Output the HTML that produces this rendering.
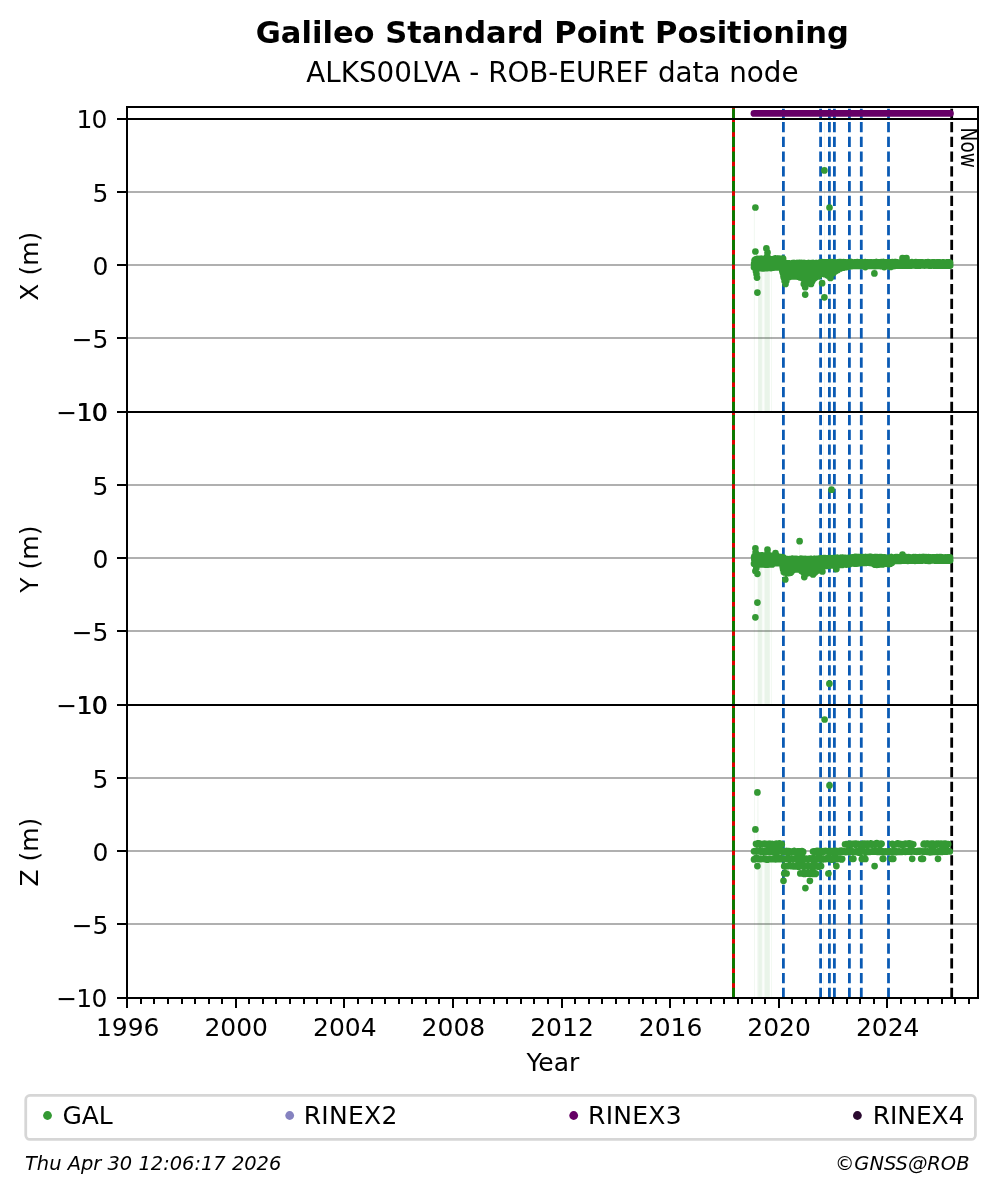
<!DOCTYPE html>
<html lang="en"><head><meta charset="utf-8"><title>Galileo Standard Point Positioning</title>
<style>html,body{margin:0;padding:0;background:#fff;width:997px;height:1194px;overflow:hidden}svg{display:block}</style></head>
<body>
<svg width="997" height="1194" viewBox="0 0 997 1194" font-family="'DejaVu Sans','Liberation Sans',sans-serif" fill="#000">
<rect width="997" height="1194" fill="#fff"/>
<defs>
<clipPath id="c0"><rect x="127.0" y="107.0" width="851.0" height="12.0"/></clipPath>
<clipPath id="c1"><rect x="127.0" y="119.0" width="851.0" height="293.0"/></clipPath>
<clipPath id="c2"><rect x="127.0" y="412.0" width="851.0" height="293.0"/></clipPath>
<clipPath id="c3"><rect x="127.0" y="705.0" width="851.0" height="293.0"/></clipPath>
</defs>
<g clip-path="url(#c0)">
<path d="M733.5 119.0V107.0" stroke="#e00000" stroke-width="3" fill="none"/><path d="M733.5 119.0V107.0" stroke="#008000" stroke-width="2.78" stroke-dasharray="10.28 4.44" fill="none"/><path d="M783.4 119.0V107.0M820.6 119.0V107.0M829.4 119.0V107.0M834.4 119.0V107.0M849.4 119.0V107.0M861.3 119.0V107.0M888.5 119.0V107.0" stroke="#0a5ab4" stroke-width="2.78" stroke-dasharray="10.28 4.44" fill="none"/><path d="M951.7 119.0V107.0" stroke="#000" stroke-width="2.78" stroke-dasharray="10.28 4.44" fill="none"/>
<path d="M754 113.4H950.4" stroke="#660066" stroke-width="6.9" stroke-linecap="round" fill="none"/>
</g>
<g clip-path="url(#c1)">
<path d="M127.0 192H978.0M127.0 265H978.0M127.0 338H978.0" stroke="#b0b0b0" stroke-width="2.0" fill="none"/>
<path d="M733.5 412.0V119.0" stroke="#e00000" stroke-width="3" fill="none"/><path d="M733.5 412.0V119.0" stroke="#008000" stroke-width="2.78" stroke-dasharray="10.28 4.44" fill="none"/><path d="M783.4 412.0V119.0M820.6 412.0V119.0M829.4 412.0V119.0M834.4 412.0V119.0M849.4 412.0V119.0M861.3 412.0V119.0M888.5 412.0V119.0" stroke="#0a5ab4" stroke-width="2.78" stroke-dasharray="10.28 4.44" fill="none"/><path d="M951.7 412.0V119.0" stroke="#000" stroke-width="2.78" stroke-dasharray="10.28 4.44" fill="none"/>
<rect x="753.9" y="207" width="0.8" height="205.0" fill="#339933" fill-opacity="0.08"/>
<rect x="758.1" y="268" width="3.8" height="144.0" fill="#339933" fill-opacity="0.11"/>
<rect x="764.4" y="266" width="5.4" height="146.0" fill="#339933" fill-opacity="0.11"/>
<rect x="771.1" y="266" width="0.8" height="146.0" fill="#339933" fill-opacity="0.08"/>
<rect x="762.55" y="266" width="0.7" height="146.0" fill="#339933" fill-opacity="0.08"/>
<rect x="824.0" y="119.0" width="0.8" height="293.0" fill="#339933" fill-opacity="0.08"/>
<rect x="829.1" y="119.0" width="0.8" height="293.0" fill="#339933" fill-opacity="0.08"/>
<path d="M754.0 267.2h0M754.1 263.5h0M754.3 264.3h0M754.4 267.6h0M754.5 260.7h0M754.7 260.9h0M754.8 260.2h0M754.9 267.8h0M755.0 264.8h0M755.2 268.1h0M755.3 261.1h0M755.4 259.7h0M755.6 268.7h0M755.7 265.4h0M755.8 265.7h0M756.0 269.4h0M756.1 267.7h0M756.2 262.1h0M756.4 259.2h0M756.5 263.3h0M756.6 263.2h0M756.7 259.0h0M756.9 268.0h0M757.0 268.7h0M757.1 269.0h0M757.3 261.5h0M757.4 262.6h0M757.5 259.0h0M757.7 259.9h0M757.8 266.6h0M757.9 258.9h0M758.1 265.9h0M758.2 265.0h0M758.3 259.0h0M758.5 268.3h0M758.6 262.1h0M758.7 259.3h0M758.8 264.8h0M759.0 268.1h0M759.1 268.2h0M759.2 261.6h0M759.4 260.0h0M759.5 268.1h0M759.6 263.4h0M759.8 263.5h0M759.9 258.9h0M760.0 267.3h0M760.2 261.2h0M760.3 267.8h0M760.4 267.7h0M760.5 264.4h0M760.7 259.3h0M760.8 261.3h0M760.9 261.5h0M761.1 258.9h0M761.2 265.3h0M761.3 261.2h0M761.5 267.9h0M761.6 267.1h0M761.7 259.1h0M761.9 258.9h0M762.0 262.4h0M762.1 260.2h0M762.2 268.0h0M762.4 265.3h0M762.5 260.1h0M762.6 268.1h0M762.8 267.4h0M762.9 264.7h0M763.0 259.3h0M763.2 259.8h0M763.3 265.8h0M763.4 268.1h0M763.6 267.1h0M763.7 265.4h0M763.8 259.2h0M763.9 266.8h0M764.1 264.6h0M764.2 267.7h0M764.3 265.0h0M764.5 267.0h0M764.6 268.0h0M764.7 263.2h0M764.9 260.0h0M765.0 267.9h0M765.1 261.2h0M765.3 263.5h0M765.4 258.9h0M765.5 261.8h0M765.7 260.7h0M765.8 267.9h0M765.9 266.9h0M766.0 264.8h0M766.2 268.1h0M766.3 266.8h0M766.4 264.1h0M766.6 259.3h0M766.7 266.7h0M766.8 267.3h0M767.0 259.0h0M767.1 260.9h0M767.2 264.6h0M767.4 268.1h0M767.5 262.9h0M767.6 259.6h0M767.7 267.9h0M767.9 262.0h0M768.0 259.1h0M768.1 259.3h0M768.3 261.0h0M768.4 259.6h0M768.5 267.9h0M768.7 266.4h0M768.8 264.9h0M768.9 258.9h0M769.1 263.3h0M769.2 260.6h0M769.3 267.9h0M769.4 264.6h0M769.6 262.7h0M769.7 259.3h0M769.8 265.2h0M770.0 263.1h0M770.1 259.1h0M770.2 266.9h0M770.4 267.3h0M770.5 259.2h0M770.6 266.3h0M770.8 265.2h0M770.9 268.1h0M771.0 263.9h0M771.2 262.3h0M771.3 259.5h0M771.4 263.5h0M771.5 266.1h0M771.7 267.6h0M771.8 266.3h0M771.9 263.6h0M772.1 261.5h0M772.2 266.3h0M772.3 266.2h0M772.5 267.5h0M772.6 263.5h0M772.7 263.7h0M772.9 267.7h0M773.0 264.7h0M773.1 263.6h0M773.2 260.8h0M773.4 267.2h0M773.5 264.1h0M773.6 267.4h0M773.8 259.8h0M773.9 263.2h0M774.0 267.2h0M774.2 264.4h0M774.3 263.3h0M774.4 267.1h0M774.6 262.6h0M774.7 262.6h0M774.8 258.7h0M774.9 260.5h0M775.1 266.4h0M775.2 258.6h0M775.3 260.8h0M775.5 261.4h0M775.6 258.9h0M775.7 259.8h0M775.9 260.8h0M776.0 258.7h0M776.1 262.3h0M776.3 260.0h0M776.4 267.2h0M776.5 266.0h0M776.6 265.9h0M776.8 267.4h0M776.9 261.4h0M777.0 266.4h0M777.2 267.0h0M777.3 260.9h0M777.4 260.8h0M777.6 258.9h0M777.7 259.8h0M777.8 264.3h0M778.0 267.4h0M778.1 266.7h0M778.2 263.2h0M778.4 267.0h0M778.5 259.2h0M778.6 259.1h0M778.7 267.0h0M778.9 260.2h0M779.0 266.1h0M779.1 258.6h0M779.3 266.8h0M779.4 265.1h0M779.5 267.2h0M779.7 263.6h0M779.8 264.9h0M779.9 258.9h0M780.1 262.1h0M780.2 260.2h0M780.3 267.4h0M780.4 264.9h0M780.6 264.0h0M780.7 267.4h0M780.8 265.4h0M781.0 266.6h0M781.1 267.2h0M781.2 266.5h0M781.4 264.8h0M781.5 258.9h0M781.6 259.4h0M781.8 263.1h0M781.9 269.1h0M782.0 261.5h0M782.1 266.4h0M782.3 271.0h0M782.4 264.0h0M782.5 267.5h0M782.7 272.5h0M782.8 267.8h0M782.9 262.6h0M783.1 258.7h0M783.2 260.3h0M783.3 274.1h0M783.5 276.2h0M783.6 276.7h0M783.7 273.9h0M783.8 277.6h0M784.0 277.1h0M784.1 269.6h0M784.2 278.2h0M784.4 277.5h0M784.5 271.3h0M784.6 263.4h0M784.8 271.6h0M784.9 273.9h0M785.0 263.1h0M785.2 265.8h0M785.3 269.3h0M785.4 263.5h0M785.6 277.1h0M785.7 276.6h0M785.8 277.9h0M785.9 271.2h0M786.1 273.9h0M786.2 278.0h0M786.3 265.0h0M786.5 269.8h0M786.6 277.7h0M786.7 269.8h0M786.9 269.8h0M787.0 263.4h0M787.1 271.2h0M787.3 277.1h0M787.4 263.5h0M787.5 274.6h0M787.6 268.3h0M787.8 277.6h0M787.9 272.4h0M788.0 265.9h0M788.2 277.6h0M788.3 263.6h0M788.4 267.1h0M788.6 263.3h0M788.7 264.1h0M788.8 272.7h0M789.0 263.3h0M789.1 266.1h0M789.2 273.7h0M789.3 263.5h0M789.5 272.0h0M789.6 266.2h0M789.7 276.8h0M789.9 272.4h0M790.0 267.7h0M790.1 276.7h0M790.3 268.1h0M790.4 274.8h0M790.5 276.6h0M790.7 272.3h0M790.8 273.4h0M790.9 276.3h0M791.1 267.4h0M791.2 272.3h0M791.3 263.4h0M791.4 267.9h0M791.6 272.5h0M791.7 276.4h0M791.8 269.1h0M792.0 267.1h0M792.1 276.3h0M792.2 266.4h0M792.4 267.9h0M792.5 263.1h0M792.6 270.6h0M792.8 270.3h0M792.9 263.4h0M793.0 274.2h0M793.1 263.6h0M793.3 276.1h0M793.4 271.6h0M793.5 264.1h0M793.7 263.1h0M793.8 272.8h0M793.9 264.4h0M794.1 276.1h0M794.2 266.3h0M794.3 273.1h0M794.5 263.2h0M794.6 275.8h0M794.7 269.6h0M794.8 276.3h0M795.0 268.7h0M795.1 272.1h0M795.2 276.4h0M795.4 275.7h0M795.5 270.2h0M795.6 263.3h0M795.8 265.3h0M795.9 276.1h0M796.0 263.3h0M796.2 267.3h0M796.3 264.0h0M796.4 276.5h0M796.5 265.4h0M796.7 269.4h0M796.8 263.1h0M796.9 265.6h0M797.1 266.5h0M797.2 263.1h0M797.3 266.9h0M797.5 273.3h0M797.6 276.6h0M797.7 267.0h0M797.9 275.4h0M798.0 276.6h0M798.1 266.0h0M798.3 276.1h0M798.4 276.7h0M798.5 267.2h0M798.6 272.0h0M798.8 263.2h0M798.9 274.2h0M799.0 271.3h0M799.2 263.2h0M799.3 275.1h0M799.4 272.2h0M799.6 276.7h0M799.7 273.6h0M799.8 274.7h0M800.0 263.2h0M800.1 272.9h0M800.2 269.9h0M800.3 277.4h0M800.5 267.7h0M800.6 269.3h0M800.7 277.2h0M800.9 271.0h0M801.0 265.7h0M801.1 263.1h0M801.3 267.7h0M801.4 273.5h0M801.5 263.2h0M801.7 270.2h0M801.8 275.5h0M801.9 263.4h0M802.0 266.8h0M802.2 269.8h0M802.3 278.0h0M802.4 272.4h0M802.6 269.0h0M802.7 263.2h0M802.8 273.3h0M803.0 266.5h0M803.1 278.6h0M803.2 274.3h0M803.4 275.7h0M803.5 263.4h0M803.6 274.0h0M803.7 269.6h0M803.9 263.2h0M804.0 265.5h0M804.1 269.4h0M804.3 263.3h0M804.4 273.5h0M804.5 276.0h0M804.7 263.1h0M804.8 269.6h0M804.9 278.7h0M805.1 278.7h0M805.2 268.4h0M805.3 273.3h0M805.5 279.1h0M805.6 276.3h0M805.7 265.9h0M805.8 279.0h0M806.0 271.0h0M806.1 274.8h0M806.2 279.3h0M806.4 266.7h0M806.5 273.1h0M806.6 263.3h0M806.8 274.3h0M806.9 278.1h0M807.0 263.5h0M807.2 265.7h0M807.3 272.1h0M807.4 263.5h0M807.5 279.4h0M807.7 272.8h0M807.8 263.5h0M807.9 267.2h0M808.1 276.6h0M808.2 263.1h0M808.3 266.5h0M808.5 278.8h0M808.6 279.8h0M808.7 269.6h0M808.9 276.3h0M809.0 263.1h0M809.1 269.8h0M809.2 266.2h0M809.4 279.9h0M809.5 273.8h0M809.6 274.4h0M809.8 280.1h0M809.9 270.3h0M810.0 275.1h0M810.2 263.5h0M810.3 277.8h0M810.4 270.3h0M810.6 280.5h0M810.7 272.3h0M810.8 278.8h0M811.0 280.8h0M811.1 276.1h0M811.2 276.3h0M811.3 263.1h0M811.5 271.1h0M811.6 270.0h0M811.7 280.8h0M811.9 268.7h0M812.0 267.3h0M812.1 280.9h0M812.3 278.3h0M812.4 277.0h0M812.5 280.6h0M812.7 265.1h0M812.8 265.4h0M812.9 263.2h0M813.0 268.1h0M813.2 264.5h0M813.3 263.2h0M813.4 272.5h0M813.6 264.0h0M813.7 263.5h0M813.8 278.5h0M814.0 266.4h0M814.1 278.4h0M814.2 275.9h0M814.4 270.2h0M814.5 278.0h0M814.6 272.4h0M814.7 275.8h0M814.9 277.5h0M815.0 276.3h0M815.1 273.2h0M815.3 277.4h0M815.4 264.3h0M815.5 267.7h0M815.7 263.2h0M815.8 272.7h0M815.9 268.5h0M816.1 276.9h0M816.2 267.6h0M816.3 272.3h0M816.4 263.5h0M816.6 269.3h0M816.7 270.2h0M816.8 263.2h0M817.0 273.8h0M817.1 267.2h0M817.2 263.3h0M817.4 266.0h0M817.5 276.0h0M817.6 276.3h0M817.8 275.4h0M817.9 265.7h0M818.0 263.4h0M818.2 273.4h0M818.3 269.9h0M818.4 276.3h0M818.5 265.6h0M818.7 265.4h0M818.8 263.4h0M818.9 273.3h0M819.1 266.2h0M819.2 275.4h0M819.3 263.6h0M819.5 271.5h0M819.6 262.8h0M819.7 263.1h0M819.9 267.7h0M820.0 273.6h0M820.1 272.6h0M820.2 268.5h0M820.4 262.4h0M820.5 262.7h0M820.6 268.7h0M820.8 272.1h0M820.9 270.1h0M821.0 264.6h0M821.2 272.1h0M821.3 262.9h0M821.4 265.8h0M821.6 262.4h0M821.7 270.2h0M821.8 263.8h0M821.9 262.3h0M822.1 271.3h0M822.2 266.3h0M822.3 262.2h0M822.5 273.0h0M822.6 270.0h0M822.7 272.9h0M822.9 267.6h0M823.0 266.3h0M823.1 273.1h0M823.3 266.9h0M823.4 263.0h0M823.5 273.7h0M823.6 272.4h0M823.8 267.1h0M823.9 273.8h0M824.0 266.3h0M824.2 268.6h0M824.3 262.4h0M824.4 266.0h0M824.6 274.2h0M824.7 262.3h0M824.8 263.4h0M825.0 266.6h0M825.1 262.3h0M825.2 267.4h0M825.4 271.0h0M825.5 262.6h0M825.6 266.9h0M825.7 271.5h0M825.9 262.3h0M826.0 263.6h0M826.1 266.6h0M826.3 262.3h0M826.4 265.2h0M826.5 264.4h0M826.7 262.4h0M826.8 269.1h0M826.9 271.3h0M827.1 275.0h0M827.2 264.9h0M827.3 271.6h0M827.4 275.2h0M827.6 266.1h0M827.7 265.0h0M827.8 275.6h0M828.0 273.3h0M828.1 266.4h0M828.2 262.5h0M828.4 271.5h0M828.5 273.9h0M828.6 262.4h0M828.8 267.5h0M828.9 267.5h0M829.0 262.2h0M829.1 267.8h0M829.3 264.7h0M829.4 262.3h0M829.5 267.8h0M829.7 270.2h0M829.8 275.2h0M829.9 267.4h0M830.1 263.2h0M830.2 262.4h0M830.3 268.3h0M830.5 265.4h0M830.6 275.0h0M830.7 265.7h0M830.9 264.7h0M831.0 274.6h0M831.1 269.6h0M831.2 271.8h0M831.4 262.4h0M831.5 265.9h0M831.6 272.8h0M831.8 262.2h0M831.9 268.2h0M832.0 266.8h0M832.2 262.3h0M832.3 270.0h0M832.4 262.4h0M832.6 262.4h0M832.7 269.6h0M832.8 269.2h0M832.9 273.1h0M833.1 266.3h0M833.2 265.8h0M833.3 273.1h0M833.5 270.8h0M833.6 268.8h0M833.7 262.3h0M833.9 269.9h0M834.0 264.6h0M834.1 262.4h0M834.3 263.4h0M834.4 262.9h0M834.5 262.4h0M834.6 269.6h0M834.8 264.1h0M834.9 262.3h0M835.0 267.2h0M835.2 266.0h0M835.3 271.2h0M835.4 265.5h0M835.6 269.9h0M835.7 262.5h0M835.8 267.9h0M836.0 269.0h0M836.1 270.7h0M836.2 263.7h0M836.3 267.5h0M836.5 262.5h0M836.6 265.9h0M836.7 265.8h0M836.9 262.5h0M837.0 263.1h0M837.1 264.8h0M837.3 262.3h0M837.4 262.6h0M837.5 266.0h0M837.7 270.1h0M837.8 264.5h0M837.9 267.1h0M838.1 262.5h0M838.2 266.5h0M838.3 263.3h0M838.4 269.3h0M838.6 265.6h0M838.7 264.4h0M838.8 262.5h0M839.0 264.1h0M839.1 265.5h0M839.2 262.2h0M839.4 268.1h0M839.5 262.7h0M839.6 268.6h0M839.8 267.8h0M839.9 265.1h0M840.0 262.4h0M840.1 266.4h0M840.3 264.3h0M840.4 268.4h0M840.5 267.5h0M840.7 263.2h0M840.8 262.2h0M840.9 264.6h0M841.1 264.2h0M841.2 262.6h0M841.3 262.5h0M841.5 267.2h0M841.6 262.6h0M841.7 267.2h0M841.8 267.8h0M842.0 262.5h0M842.1 264.0h0M842.2 262.6h0M842.4 262.3h0M842.5 266.2h0M842.6 264.5h0M842.8 262.6h0M842.9 263.9h0M843.0 264.3h0M843.2 267.7h0M843.3 265.8h0M843.4 262.8h0M843.5 262.2h0M843.7 265.0h0M843.8 264.1h0M843.9 262.6h0M844.1 264.2h0M844.2 263.2h0M844.3 267.3h0M844.5 264.5h0M844.6 263.2h0M844.7 267.2h0M844.9 263.2h0M845.0 267.0h0M845.1 262.5h0M845.3 263.5h0M845.4 266.8h0M845.5 267.2h0M845.6 263.1h0M845.8 265.6h0M845.9 262.3h0M846.0 263.5h0M846.2 265.0h0M846.3 266.9h0M846.4 265.1h0M846.6 266.4h0M846.7 266.9h0M846.8 263.9h0M847.0 266.6h0M847.1 262.6h0M847.2 264.4h0M847.3 266.0h0M847.5 266.7h0M847.6 264.8h0M847.7 262.9h0M847.9 262.6h0M848.0 264.3h0M848.1 265.7h0M848.3 266.2h0M848.4 264.7h0M848.5 264.2h0M848.7 266.4h0M848.8 264.7h0M848.9 265.3h0M849.0 262.2h0M849.2 263.9h0M849.3 265.3h0M849.4 262.6h0M849.6 264.8h0M849.7 262.9h0M849.8 266.1h0M850.0 264.8h0M850.1 264.7h0M850.2 262.3h0M850.4 264.5h0M850.5 264.6h0M850.6 262.5h0M850.8 263.8h0M850.9 263.0h0M851.0 262.2h0M851.1 266.0h0M851.3 264.9h0M851.4 262.2h0M851.5 264.6h0M851.7 265.2h0M851.8 266.1h0M851.9 263.7h0M852.1 263.3h0M852.2 265.8h0M852.3 265.5h0M852.5 264.2h0M852.6 266.0h0M852.7 263.8h0M852.8 263.8h0M853.0 265.8h0M853.1 264.9h0M853.2 263.2h0M853.4 265.8h0M853.5 263.8h0M853.6 265.4h0M853.8 265.7h0M853.9 265.3h0M854.0 263.6h0M854.2 265.8h0M854.3 265.8h0M854.4 262.6h0M854.5 262.4h0M854.7 263.6h0M854.8 264.8h0M854.9 265.8h0M855.1 265.4h0M855.2 265.1h0M855.3 262.4h0M855.5 264.6h0M855.6 265.7h0M855.7 262.4h0M855.9 264.8h0M856.0 263.1h0M856.1 265.8h0M856.2 265.4h0M856.4 264.9h0M856.5 262.6h0M856.6 265.9h0M856.8 262.4h0M856.9 265.7h0M857.0 265.1h0M857.2 264.0h0M857.3 262.2h0M857.4 264.1h0M857.6 265.0h0M857.7 262.3h0M857.8 264.0h0M858.0 264.2h0M858.1 265.7h0M858.2 265.8h0M858.3 263.9h0M858.5 265.9h0M858.6 262.3h0M858.7 265.4h0M858.9 262.4h0M859.0 262.3h0M859.1 263.7h0M859.3 265.7h0M859.4 263.7h0M859.5 263.1h0M859.7 262.4h0M859.8 264.9h0M859.9 265.7h0M860.0 265.8h0M860.2 263.6h0M860.3 263.2h0M860.4 262.3h0M860.6 263.9h0M860.7 262.8h0M860.8 265.9h0M861.0 263.7h0M861.1 262.7h0M861.2 262.3h0M861.4 265.0h0M861.5 262.4h0M861.6 262.5h0M861.7 265.7h0M861.9 264.4h0M862.0 265.9h0M862.1 263.5h0M862.3 264.3h0M862.4 262.3h0M862.5 263.5h0M862.7 264.1h0M862.8 262.5h0M862.9 263.0h0M863.1 265.2h0M863.2 266.0h0M863.3 264.4h0M863.4 264.8h0M863.6 266.1h0M863.7 264.4h0M863.8 265.8h0M864.0 262.5h0M864.1 264.0h0M864.2 266.1h0M864.4 265.9h0M864.5 265.0h0M864.6 263.9h0M864.8 262.5h0M864.9 262.5h0M865.0 265.4h0M865.2 262.2h0M865.3 263.7h0M865.4 264.6h0M865.5 262.4h0M865.7 265.2h0M865.8 265.4h0M865.9 262.4h0M866.1 265.0h0M866.2 264.2h0M866.3 265.7h0M866.5 264.8h0M866.6 264.3h0M866.7 262.3h0M866.9 264.5h0M867.0 263.8h0M867.1 262.5h0M867.2 264.3h0M867.4 263.7h0M867.5 262.5h0M867.6 264.3h0M867.8 262.8h0M867.9 265.9h0M868.0 264.6h0M868.2 266.0h0M868.3 262.3h0M868.4 264.8h0M868.6 263.7h0M868.7 265.9h0M868.8 264.3h0M868.9 263.2h0M869.1 265.7h0M869.2 265.0h0M869.3 263.1h0M869.5 262.6h0M869.6 264.6h0M869.7 265.7h0M869.9 266.0h0M870.0 263.6h0M870.1 264.8h0M870.3 262.4h0M870.4 263.2h0M870.5 263.1h0M870.7 262.3h0M870.8 263.4h0M870.9 265.3h0M871.0 266.0h0M871.2 264.4h0M871.3 264.4h0M871.4 265.8h0M871.6 262.8h0M871.7 263.8h0M871.8 262.4h0M872.0 265.2h0M872.1 264.2h0M872.2 262.6h0M872.4 263.0h0M872.5 264.5h0M872.6 262.5h0M872.7 263.1h0M872.9 263.7h0M873.0 265.7h0M873.1 262.6h0M873.3 265.9h0M873.4 265.9h0M873.5 262.7h0M873.7 263.1h0M873.8 262.3h0M873.9 264.8h0M874.1 263.9h0M874.2 266.1h0M874.3 264.2h0M874.4 263.4h0M874.6 266.1h0M874.7 265.9h0M874.8 265.6h0M875.0 262.5h0M875.1 264.9h0M875.2 264.8h0M875.4 266.1h0M875.5 262.3h0M875.6 265.7h0M875.8 262.6h0M875.9 264.8h0M876.0 264.6h0M876.1 262.2h0M876.3 265.4h0M876.4 265.3h0M876.5 262.2h0M876.7 265.0h0M876.8 264.5h0M876.9 265.9h0M877.1 263.4h0M877.2 262.9h0M877.3 262.6h0M877.5 263.5h0M877.6 264.6h0M877.7 262.6h0M877.9 262.9h0M878.0 263.4h0M878.1 266.0h0M878.2 264.1h0M878.4 265.0h0M878.5 262.7h0M878.6 263.6h0M878.8 265.8h0M878.9 262.6h0M879.0 265.1h0M879.2 265.1h0M879.3 266.0h0M879.4 264.2h0M879.6 262.5h0M879.7 262.6h0M879.8 262.8h0M879.9 265.7h0M880.1 262.6h0M880.2 263.0h0M880.3 265.6h0M880.5 266.1h0M880.6 265.2h0M880.7 263.9h0M880.9 262.6h0M881.0 262.5h0M881.1 263.4h0M881.3 262.2h0M881.4 264.3h0M881.5 264.5h0M881.6 265.7h0M881.8 263.0h0M881.9 263.6h0M882.0 265.7h0M882.2 263.6h0M882.3 263.6h0M882.4 262.5h0M882.6 265.3h0M882.7 263.3h0M882.8 262.6h0M883.0 263.6h0M883.1 262.8h0M883.2 262.2h0M883.3 263.3h0M883.5 264.2h0M883.6 262.2h0M883.7 263.3h0M883.9 263.4h0M884.0 262.5h0M884.1 263.5h0M884.3 265.5h0M884.4 265.9h0M884.5 263.8h0M884.7 263.5h0M884.8 265.7h0M884.9 264.4h0M885.1 263.3h0M885.2 262.5h0M885.3 263.2h0M885.4 263.2h0M885.6 262.5h0M885.7 264.4h0M885.8 264.2h0M886.0 262.3h0M886.1 264.5h0M886.2 263.8h0M886.4 262.5h0M886.5 265.7h0M886.6 263.8h0M886.8 262.6h0M886.9 265.1h0M887.0 265.6h0M887.1 266.1h0M887.3 264.1h0M887.4 263.6h0M887.5 262.3h0M887.7 263.3h0M887.8 265.5h0M887.9 266.0h0M888.1 265.1h0M888.2 265.1h0M888.3 262.3h0M888.5 265.4h0M888.6 264.1h0M888.7 266.1h0M888.8 265.7h0M889.0 262.7h0M889.1 266.1h0M889.2 263.4h0M889.4 265.0h0M889.5 265.7h0M889.6 264.7h0M889.8 265.6h0M889.9 265.9h0M890.0 265.8h0M890.2 264.1h0M890.3 262.3h0M890.4 265.1h0M890.6 264.8h0M890.7 265.8h0M890.8 263.2h0M890.9 264.8h0M891.1 262.7h0M891.2 265.5h0M891.3 265.8h0M891.5 265.8h0M891.6 263.4h0M891.7 263.9h0M891.9 265.9h0M892.0 264.9h0M892.1 263.2h0M892.3 262.2h0M892.4 262.6h0M892.5 264.5h0M892.6 262.4h0M892.8 263.2h0M892.9 265.6h0M893.0 266.0h0M893.2 264.4h0M893.3 265.9h0M893.4 266.1h0M893.6 264.1h0M893.7 264.8h0M893.8 265.7h0M894.0 265.0h0M894.1 263.6h0M894.2 265.7h0M894.3 263.7h0M894.5 264.2h0M894.6 262.2h0M894.7 263.4h0M894.9 263.7h0M895.0 265.8h0M895.1 263.8h0M895.3 264.7h0M895.4 265.4h0M895.5 262.6h0M895.7 262.3h0M895.8 262.2h0M895.9 265.5h0M896.0 264.0h0M896.2 265.3h0M896.3 263.2h0M896.4 265.1h0M896.6 262.6h0M896.7 263.4h0M896.8 264.6h0M897.0 262.4h0M897.1 263.5h0M897.2 263.6h0M897.4 262.4h0M897.5 265.1h0M897.6 263.8h0M897.8 265.5h0M897.9 264.6h0M898.0 263.5h0M898.1 265.6h0M898.3 263.9h0M898.4 263.3h0M898.5 265.4h0M898.7 264.4h0M898.8 263.9h0M898.9 265.4h0M899.1 263.9h0M899.2 263.3h0M899.3 265.7h0M899.5 264.9h0M899.6 264.4h0M899.7 265.5h0M899.8 263.3h0M900.0 264.2h0M900.1 262.6h0M900.2 263.6h0M900.4 265.2h0M900.5 265.5h0M900.6 263.0h0M900.8 265.3h0M900.9 265.5h0M901.0 262.9h0M901.2 263.9h0M901.3 265.7h0M901.4 263.7h0M901.5 262.6h0M901.7 265.7h0M901.8 263.5h0M901.9 263.6h0M902.1 262.5h0M902.2 262.8h0M902.3 265.3h0M902.5 262.3h0M902.6 262.9h0M902.7 264.6h0M902.9 265.3h0M903.0 265.1h0M903.1 263.2h0M903.2 262.6h0M903.4 263.1h0M903.5 263.4h0M903.6 265.6h0M903.8 265.3h0M903.9 263.2h0M904.0 265.4h0M904.2 263.8h0M904.3 265.2h0M904.4 262.4h0M904.6 264.5h0M904.7 265.3h0M904.8 262.3h0M905.0 264.4h0M905.1 264.4h0M905.2 265.5h0M905.3 262.5h0M905.5 263.8h0M905.6 265.3h0M905.7 262.5h0M905.9 264.4h0M906.0 265.6h0M906.1 263.4h0M906.3 263.4h0M906.4 262.3h0M906.5 263.2h0M906.7 262.4h0M906.8 262.3h0M906.9 265.0h0M907.0 263.9h0M907.2 265.6h0M907.3 264.6h0M907.4 263.9h0M907.6 265.5h0M907.7 264.1h0M907.8 265.1h0M908.0 262.4h0M908.1 262.7h0M908.2 264.2h0M908.4 265.7h0M908.5 264.6h0M908.6 264.7h0M908.7 265.7h0M908.9 265.7h0M909.0 264.8h0M909.1 265.5h0M909.3 263.9h0M909.4 265.1h0M909.5 262.7h0M909.7 262.3h0M909.8 263.7h0M909.9 265.7h0M910.1 263.9h0M910.2 264.3h0M910.3 262.7h0M910.5 264.4h0M910.6 263.8h0M910.7 265.6h0M910.8 262.4h0M911.0 264.3h0M911.1 265.4h0M911.2 265.4h0M911.4 262.8h0M911.5 265.6h0M911.6 264.5h0M911.8 262.7h0M911.9 262.2h0M912.0 262.9h0M912.2 265.3h0M912.3 265.3h0M912.4 264.4h0M912.5 265.1h0M912.7 262.6h0M912.8 263.3h0M912.9 263.0h0M913.1 262.4h0M913.2 265.3h0M913.3 262.5h0M913.5 262.6h0M913.6 264.8h0M913.7 264.6h0M913.9 265.5h0M914.0 262.6h0M914.1 263.6h0M914.2 262.7h0M914.4 263.5h0M914.5 263.0h0M914.6 262.5h0M914.8 264.1h0M914.9 264.0h0M915.0 265.3h0M915.2 264.9h0M915.3 263.0h0M915.4 265.6h0M915.6 264.9h0M915.7 262.8h0M915.8 262.2h0M915.9 262.7h0M916.1 263.4h0M916.2 265.6h0M916.3 265.0h0M916.5 262.7h0M916.6 262.3h0M916.7 264.2h0M916.9 263.0h0M917.0 262.5h0M917.1 264.0h0M917.3 263.7h0M917.4 262.4h0M917.5 262.7h0M917.7 264.2h0M917.8 265.3h0M917.9 263.7h0M918.0 263.7h0M918.2 262.4h0M918.3 263.5h0M918.4 264.9h0M918.6 262.4h0M918.7 265.2h0M918.8 263.0h0M919.0 265.4h0M919.1 264.5h0M919.2 265.2h0M919.4 265.7h0M919.5 264.7h0M919.6 262.9h0M919.7 262.6h0M919.9 262.7h0M920.0 263.2h0M920.1 262.4h0M920.3 265.3h0M920.4 263.2h0M920.5 262.6h0M920.7 263.1h0M920.8 263.2h0M920.9 262.4h0M921.1 263.5h0M921.2 264.2h0M921.3 262.5h0M921.4 264.8h0M921.6 265.3h0M921.7 262.4h0M921.8 264.7h0M922.0 264.4h0M922.1 265.4h0M922.2 264.2h0M922.4 262.5h0M922.5 265.5h0M922.6 264.7h0M922.8 262.4h0M922.9 262.6h0M923.0 264.6h0M923.1 265.0h0M923.3 265.3h0M923.4 262.9h0M923.5 262.7h0M923.7 262.5h0M923.8 264.9h0M923.9 262.9h0M924.1 265.5h0M924.2 264.4h0M924.3 264.8h0M924.5 265.6h0M924.6 263.6h0M924.7 263.8h0M924.9 265.5h0M925.0 262.5h0M925.1 264.4h0M925.2 265.4h0M925.4 263.9h0M925.5 264.9h0M925.6 262.4h0M925.8 263.9h0M925.9 265.3h0M926.0 262.6h0M926.2 262.8h0M926.3 263.8h0M926.4 262.4h0M926.6 263.8h0M926.7 262.9h0M926.8 262.3h0M926.9 263.1h0M927.1 264.5h0M927.2 262.4h0M927.3 264.1h0M927.5 265.2h0M927.6 265.3h0M927.7 262.7h0M927.9 264.1h0M928.0 262.2h0M928.1 264.3h0M928.3 263.6h0M928.4 265.3h0M928.5 265.5h0M928.6 264.3h0M928.8 265.6h0M928.9 262.6h0M929.0 262.9h0M929.2 265.4h0M929.3 264.1h0M929.4 263.1h0M929.6 262.4h0M929.7 264.7h0M929.8 263.7h0M930.0 262.6h0M930.1 264.1h0M930.2 263.5h0M930.4 265.6h0M930.5 263.0h0M930.6 264.3h0M930.7 265.7h0M930.9 265.4h0M931.0 264.4h0M931.1 262.6h0M931.3 263.5h0M931.4 265.2h0M931.5 265.4h0M931.7 264.3h0M931.8 263.2h0M931.9 265.4h0M932.1 263.4h0M932.2 263.0h0M932.3 262.4h0M932.4 264.6h0M932.6 265.1h0M932.7 262.4h0M932.8 263.7h0M933.0 264.4h0M933.1 265.4h0M933.2 262.9h0M933.4 262.9h0M933.5 262.5h0M933.6 264.2h0M933.8 262.5h0M933.9 265.4h0M934.0 265.5h0M934.1 264.0h0M934.3 262.5h0M934.4 262.6h0M934.5 263.6h0M934.7 265.7h0M934.8 265.5h0M934.9 264.4h0M935.1 265.3h0M935.2 264.0h0M935.3 264.1h0M935.5 265.6h0M935.6 264.8h0M935.7 262.7h0M935.8 265.4h0M936.0 263.8h0M936.1 264.1h0M936.2 262.7h0M936.4 264.7h0M936.5 263.9h0M936.6 262.4h0M936.8 264.8h0M936.9 264.5h0M937.0 262.5h0M937.2 263.3h0M937.3 262.6h0M937.4 265.5h0M937.6 262.7h0M937.7 264.9h0M937.8 265.7h0M937.9 263.2h0M938.1 265.2h0M938.2 262.3h0M938.3 263.4h0M938.5 265.2h0M938.6 262.4h0M938.7 264.6h0M938.9 264.8h0M939.0 262.4h0M939.1 264.0h0M939.3 264.5h0M939.4 262.3h0M939.5 263.6h0M939.6 262.4h0M939.8 265.7h0M939.9 262.5h0M940.0 263.5h0M940.2 265.7h0M940.3 263.5h0M940.4 262.6h0M940.6 262.6h0M940.7 264.7h0M940.8 263.0h0M941.0 265.4h0M941.1 263.8h0M941.2 264.1h0M941.3 265.7h0M941.5 264.5h0M941.6 265.1h0M941.7 262.6h0M941.9 262.8h0M942.0 264.0h0M942.1 262.7h0M942.3 265.1h0M942.4 262.5h0M942.5 262.7h0M942.7 264.4h0M942.8 262.6h0M942.9 262.4h0M943.0 262.5h0M943.2 263.8h0M943.3 265.4h0M943.4 262.6h0M943.6 263.5h0M943.7 262.3h0M943.8 263.3h0M944.0 262.6h0M944.1 262.7h0M944.2 263.5h0M944.4 263.8h0M944.5 265.5h0M944.6 263.9h0M944.8 264.8h0M944.9 265.7h0M945.0 264.8h0M945.1 263.9h0M945.3 265.7h0M945.4 264.8h0M945.5 264.8h0M945.7 265.3h0M945.8 263.9h0M945.9 265.2h0M946.1 262.6h0M946.2 264.1h0M946.3 263.6h0M946.5 262.6h0M946.6 265.3h0M946.7 263.1h0M946.8 265.3h0M947.0 265.3h0M947.1 262.6h0M947.2 262.7h0M947.4 265.1h0M947.5 263.7h0M947.6 262.4h0M947.8 263.7h0M947.9 263.9h0M948.0 265.7h0M948.2 264.9h0M948.3 263.2h0M948.4 265.4h0M948.5 265.4h0M948.7 262.4h0M948.8 265.7h0M948.9 262.5h0M949.1 263.4h0M949.2 262.3h0M949.3 265.6h0M949.5 264.6h0M949.6 265.5h0M949.7 263.3h0M949.9 264.4h0M950.0 262.7h0M950.1 263.0h0M950.2 265.6h0M755.4 207.5h0M824.4 170.4h0M829.5 207.5h0M755.4 251.5h0M766.4 248.4h0M767.5 252.4h0M767.3 256.0h0M757.0 277.6h0M756.5 274.0h0M756.0 271.5h0M757.4 292.6h0M805.2 294.6h0M805.2 287.2h0M803.8 284.0h0M806.5 283.5h0M822.1 283.2h0M824.4 297.3h0M785.5 283.9h0M786.3 281.0h0M784.6 281.0h0M811.0 283.9h0M810.0 281.5h0M812.0 281.5h0M830.4 277.9h0M829.6 275.5h0M874.4 273.4h0M902.5 258.2h0M906.5 258.2h0M844.9 266.9h0M865.3 267.1h0M884.2 267.1h0M890.6 266.9h0M763.0 268.5h0" stroke="#339933" stroke-width="6.7" stroke-linecap="round" fill="none"/>
</g>
<g clip-path="url(#c2)">
<path d="M127.0 485H978.0M127.0 558H978.0M127.0 631H978.0" stroke="#b0b0b0" stroke-width="2.0" fill="none"/>
<path d="M733.5 705.0V412.0" stroke="#e00000" stroke-width="3" fill="none"/><path d="M733.5 705.0V412.0" stroke="#008000" stroke-width="2.78" stroke-dasharray="10.28 4.44" fill="none"/><path d="M783.4 705.0V412.0M820.6 705.0V412.0M829.4 705.0V412.0M834.4 705.0V412.0M849.4 705.0V412.0M861.3 705.0V412.0M888.5 705.0V412.0" stroke="#0a5ab4" stroke-width="2.78" stroke-dasharray="10.28 4.44" fill="none"/><path d="M951.7 705.0V412.0" stroke="#000" stroke-width="2.78" stroke-dasharray="10.28 4.44" fill="none"/>
<rect x="753.9" y="412.0" width="0.8" height="293.0" fill="#339933" fill-opacity="0.08"/>
<rect x="757.7" y="565" width="4.2" height="140.0" fill="#339933" fill-opacity="0.11"/>
<rect x="764.4" y="562" width="5.4" height="143.0" fill="#339933" fill-opacity="0.11"/>
<rect x="770.9" y="562" width="0.8" height="143.0" fill="#339933" fill-opacity="0.08"/>
<rect x="762.55" y="562" width="0.7" height="143.0" fill="#339933" fill-opacity="0.08"/>
<rect x="823.2" y="412.0" width="0.8" height="293.0" fill="#339933" fill-opacity="0.08"/>
<rect x="829.1" y="412.0" width="0.8" height="293.0" fill="#339933" fill-opacity="0.08"/>
<rect x="799.25" y="541" width="0.7" height="19" fill="#339933" fill-opacity="0.08"/>
<path d="M754.0 563.7h0M754.1 557.1h0M754.3 559.5h0M754.4 556.3h0M754.5 557.9h0M754.7 556.2h0M754.8 556.2h0M754.9 561.8h0M755.0 556.7h0M755.2 564.1h0M755.3 563.8h0M755.4 562.1h0M755.6 564.1h0M755.7 556.5h0M755.8 562.0h0M756.0 564.2h0M756.1 557.2h0M756.2 562.6h0M756.4 555.5h0M756.5 558.1h0M756.6 562.8h0M756.7 555.6h0M756.9 562.5h0M757.0 557.8h0M757.1 564.6h0M757.3 557.8h0M757.4 563.7h0M757.5 555.9h0M757.7 556.1h0M757.8 556.1h0M757.9 564.6h0M758.1 564.0h0M758.2 564.4h0M758.3 564.3h0M758.5 557.2h0M758.6 559.6h0M758.7 564.3h0M758.8 556.6h0M759.0 557.2h0M759.1 555.7h0M759.2 563.5h0M759.4 558.9h0M759.5 564.5h0M759.6 559.4h0M759.8 563.0h0M759.9 555.7h0M760.0 562.4h0M760.2 560.6h0M760.3 564.3h0M760.4 560.7h0M760.5 558.1h0M760.7 564.4h0M760.8 557.8h0M760.9 559.8h0M761.1 555.6h0M761.2 562.4h0M761.3 563.1h0M761.5 555.7h0M761.6 559.2h0M761.7 561.8h0M761.9 564.4h0M762.0 560.2h0M762.1 563.3h0M762.2 564.4h0M762.4 562.5h0M762.5 560.9h0M762.6 555.6h0M762.8 564.0h0M762.9 559.0h0M763.0 555.7h0M763.2 557.8h0M763.3 556.3h0M763.4 564.4h0M763.6 556.6h0M763.7 556.8h0M763.8 564.3h0M763.9 563.0h0M764.1 564.3h0M764.2 564.3h0M764.3 558.7h0M764.5 562.8h0M764.6 555.8h0M764.7 558.0h0M764.9 563.7h0M765.0 564.6h0M765.1 557.0h0M765.3 560.8h0M765.4 555.8h0M765.5 560.8h0M765.7 562.9h0M765.8 555.5h0M765.9 556.7h0M766.0 557.5h0M766.2 564.4h0M766.3 563.1h0M766.4 558.9h0M766.6 564.3h0M766.7 563.7h0M766.8 564.1h0M767.0 564.6h0M767.1 556.0h0M767.2 562.1h0M767.4 555.7h0M767.5 556.1h0M767.6 559.6h0M767.7 555.6h0M767.9 558.5h0M768.0 559.4h0M768.1 564.6h0M768.3 560.4h0M768.4 559.5h0M768.5 564.5h0M768.7 559.2h0M768.8 563.0h0M768.9 555.5h0M769.1 559.3h0M769.2 562.2h0M769.3 555.5h0M769.4 560.7h0M769.6 560.8h0M769.7 555.5h0M769.8 559.6h0M770.0 561.2h0M770.1 564.5h0M770.2 560.2h0M770.4 559.0h0M770.5 555.7h0M770.6 560.6h0M770.8 558.5h0M770.9 564.4h0M771.0 563.4h0M771.2 561.9h0M771.3 555.9h0M771.4 563.9h0M771.5 562.7h0M771.7 564.5h0M771.8 564.1h0M771.9 560.0h0M772.1 564.4h0M772.2 563.1h0M772.3 562.1h0M772.5 563.9h0M772.6 557.6h0M772.7 561.1h0M772.9 556.4h0M773.0 562.0h0M773.1 560.7h0M773.2 556.7h0M773.4 559.1h0M773.5 560.3h0M773.6 563.0h0M773.8 559.0h0M773.9 560.9h0M774.0 563.1h0M774.2 557.7h0M774.3 560.7h0M774.4 557.0h0M774.6 561.9h0M774.7 560.3h0M774.8 563.2h0M774.9 558.7h0M775.1 562.1h0M775.2 562.8h0M775.3 560.0h0M775.5 558.3h0M775.6 562.8h0M775.7 558.5h0M775.9 562.3h0M776.0 562.9h0M776.1 557.3h0M776.3 563.1h0M776.4 557.1h0M776.5 561.0h0M776.6 559.5h0M776.8 557.2h0M776.9 560.0h0M777.0 558.9h0M777.2 557.3h0M777.3 559.6h0M777.4 559.4h0M777.6 563.2h0M777.7 557.4h0M777.8 561.8h0M778.0 563.1h0M778.1 561.0h0M778.2 562.8h0M778.4 557.0h0M778.5 560.3h0M778.6 562.8h0M778.7 563.2h0M778.9 559.6h0M779.0 560.6h0M779.1 556.9h0M779.3 559.0h0M779.4 557.6h0M779.5 563.1h0M779.7 561.2h0M779.8 558.6h0M779.9 557.4h0M780.1 559.9h0M780.2 558.4h0M780.3 562.9h0M780.4 562.8h0M780.6 561.4h0M780.7 557.3h0M780.8 561.6h0M781.0 559.2h0M781.1 562.8h0M781.2 559.3h0M781.4 561.6h0M781.5 557.1h0M781.6 559.9h0M781.8 559.1h0M781.9 557.3h0M782.0 561.6h0M782.1 562.1h0M782.3 564.8h0M782.4 563.2h0M782.5 561.9h0M782.7 567.0h0M782.8 565.8h0M782.9 564.1h0M783.1 569.2h0M783.2 567.9h0M783.3 560.8h0M783.5 557.6h0M783.6 570.0h0M783.7 559.9h0M783.8 572.0h0M784.0 561.9h0M784.1 561.0h0M784.2 572.1h0M784.4 561.7h0M784.5 559.1h0M784.6 572.5h0M784.8 570.3h0M784.9 562.5h0M785.0 558.9h0M785.2 561.4h0M785.3 571.5h0M785.4 559.2h0M785.6 559.1h0M785.7 569.1h0M785.8 559.1h0M785.9 567.6h0M786.1 571.0h0M786.2 558.9h0M786.3 561.6h0M786.5 562.4h0M786.6 573.0h0M786.7 566.0h0M786.9 570.1h0M787.0 572.8h0M787.1 566.2h0M787.3 570.7h0M787.4 559.1h0M787.5 559.7h0M787.6 572.4h0M787.8 573.2h0M787.9 570.5h0M788.0 560.5h0M788.2 572.9h0M788.3 572.7h0M788.4 563.6h0M788.6 559.3h0M788.7 560.1h0M788.8 564.7h0M789.0 572.9h0M789.1 560.4h0M789.2 562.2h0M789.3 559.1h0M789.5 559.7h0M789.6 564.3h0M789.7 572.8h0M789.9 570.2h0M790.0 569.0h0M790.1 572.8h0M790.3 561.3h0M790.4 570.9h0M790.5 572.7h0M790.7 572.1h0M790.8 561.3h0M790.9 559.1h0M791.1 562.0h0M791.2 563.7h0M791.3 571.9h0M791.4 568.0h0M791.6 569.3h0M791.7 559.1h0M791.8 560.0h0M792.0 567.2h0M792.1 559.2h0M792.2 569.6h0M792.4 567.1h0M792.5 559.1h0M792.6 564.6h0M792.8 566.1h0M792.9 559.2h0M793.0 567.9h0M793.1 561.6h0M793.3 570.1h0M793.4 562.7h0M793.5 561.7h0M793.7 569.6h0M793.8 562.2h0M793.9 562.4h0M794.1 559.2h0M794.2 563.6h0M794.3 564.4h0M794.5 569.4h0M794.6 567.2h0M794.7 563.5h0M794.8 558.9h0M795.0 566.0h0M795.1 566.4h0M795.2 569.1h0M795.4 563.8h0M795.5 566.5h0M795.6 569.4h0M795.8 562.5h0M795.9 566.3h0M796.0 559.1h0M796.2 562.2h0M796.3 560.4h0M796.4 558.9h0M796.5 566.2h0M796.7 560.1h0M796.8 569.3h0M796.9 565.9h0M797.1 561.7h0M797.2 569.1h0M797.3 562.8h0M797.5 561.3h0M797.6 559.3h0M797.7 564.1h0M797.9 567.7h0M798.0 568.7h0M798.1 563.4h0M798.3 565.7h0M798.4 569.0h0M798.5 561.8h0M798.6 565.7h0M798.8 568.9h0M798.9 561.2h0M799.0 561.1h0M799.2 568.9h0M799.3 567.1h0M799.4 562.9h0M799.6 559.1h0M799.7 566.4h0M799.8 560.9h0M800.0 569.6h0M800.1 568.4h0M800.2 566.2h0M800.3 559.2h0M800.5 563.7h0M800.6 561.3h0M800.7 559.0h0M800.9 564.1h0M801.0 561.8h0M801.1 559.1h0M801.3 567.8h0M801.4 559.2h0M801.5 571.0h0M801.7 570.9h0M801.8 569.3h0M801.9 559.2h0M802.0 564.2h0M802.2 560.2h0M802.3 559.3h0M802.4 565.8h0M802.6 561.6h0M802.7 558.9h0M802.8 559.2h0M803.0 559.7h0M803.1 559.1h0M803.2 562.7h0M803.4 566.1h0M803.5 572.5h0M803.6 562.3h0M803.7 566.7h0M803.9 559.0h0M804.0 565.0h0M804.1 562.4h0M804.3 559.3h0M804.4 563.7h0M804.5 563.7h0M804.7 572.7h0M804.8 564.5h0M804.9 570.1h0M805.1 558.9h0M805.2 559.8h0M805.3 560.0h0M805.5 573.3h0M805.6 569.8h0M805.7 563.6h0M805.8 559.0h0M806.0 572.2h0M806.1 566.2h0M806.2 559.1h0M806.4 569.4h0M806.5 561.3h0M806.6 573.4h0M806.8 571.8h0M806.9 564.4h0M807.0 573.1h0M807.2 571.0h0M807.3 566.7h0M807.4 573.0h0M807.5 564.5h0M807.7 568.9h0M807.8 559.2h0M807.9 562.7h0M808.1 572.1h0M808.2 572.9h0M808.3 561.7h0M808.5 565.5h0M808.6 572.8h0M808.7 571.3h0M808.9 567.6h0M809.0 572.4h0M809.1 572.2h0M809.2 559.8h0M809.4 559.1h0M809.5 561.9h0M809.6 565.0h0M809.8 572.2h0M809.9 562.1h0M810.0 563.5h0M810.2 559.3h0M810.3 561.3h0M810.4 570.7h0M810.6 559.0h0M810.7 565.0h0M810.8 572.2h0M811.0 559.2h0M811.1 561.9h0M811.2 565.9h0M811.3 572.3h0M811.5 563.7h0M811.6 562.8h0M811.7 559.0h0M811.9 570.0h0M812.0 563.7h0M812.1 572.5h0M812.3 569.0h0M812.4 563.4h0M812.5 572.4h0M812.7 561.4h0M812.8 559.3h0M812.9 572.5h0M813.0 566.3h0M813.2 564.5h0M813.3 572.2h0M813.4 563.3h0M813.6 568.3h0M813.7 559.1h0M813.8 569.8h0M814.0 564.3h0M814.1 559.2h0M814.2 567.3h0M814.4 564.9h0M814.5 559.1h0M814.6 571.4h0M814.7 564.2h0M814.9 572.4h0M815.0 560.4h0M815.1 564.1h0M815.3 559.1h0M815.4 565.5h0M815.5 563.1h0M815.7 571.8h0M815.8 562.3h0M815.9 565.6h0M816.1 559.0h0M816.2 565.9h0M816.3 568.4h0M816.4 558.9h0M816.6 567.8h0M816.7 560.2h0M816.8 571.0h0M817.0 570.3h0M817.1 568.1h0M817.2 570.8h0M817.4 568.3h0M817.5 569.2h0M817.6 570.6h0M817.8 559.3h0M817.9 567.7h0M818.0 558.9h0M818.2 569.6h0M818.3 565.6h0M818.4 559.1h0M818.5 567.6h0M818.7 568.0h0M818.8 559.1h0M818.9 561.9h0M819.1 567.7h0M819.2 569.3h0M819.3 568.2h0M819.5 561.5h0M819.6 558.6h0M819.7 567.8h0M819.9 566.1h0M820.0 568.5h0M820.1 564.0h0M820.2 560.8h0M820.4 568.2h0M820.5 563.3h0M820.6 559.2h0M820.8 567.4h0M820.9 562.6h0M821.0 562.8h0M821.2 558.4h0M821.3 559.0h0M821.4 559.1h0M821.6 566.4h0M821.7 561.8h0M821.8 561.1h0M821.9 566.1h0M822.1 562.1h0M822.2 561.3h0M822.3 558.4h0M822.5 564.6h0M822.6 563.1h0M822.7 565.8h0M822.9 559.7h0M823.0 559.2h0M823.1 565.9h0M823.3 562.5h0M823.4 564.8h0M823.5 558.1h0M823.6 560.4h0M823.8 565.7h0M823.9 558.3h0M824.0 563.3h0M824.2 561.0h0M824.3 565.9h0M824.4 564.2h0M824.6 563.9h0M824.7 558.4h0M824.8 563.8h0M825.0 561.0h0M825.1 558.2h0M825.2 558.6h0M825.4 559.3h0M825.5 565.8h0M825.6 565.2h0M825.7 565.4h0M825.9 565.6h0M826.0 558.6h0M826.1 560.9h0M826.3 565.8h0M826.4 560.8h0M826.5 563.3h0M826.7 558.3h0M826.8 564.8h0M826.9 564.9h0M827.1 558.3h0M827.2 562.0h0M827.3 561.0h0M827.4 565.5h0M827.6 562.2h0M827.7 559.6h0M827.8 565.8h0M828.0 564.3h0M828.1 562.1h0M828.2 565.4h0M828.4 563.5h0M828.5 565.1h0M828.6 558.2h0M828.8 559.9h0M828.9 563.9h0M829.0 565.4h0M829.1 561.8h0M829.3 560.7h0M829.4 565.7h0M829.5 565.5h0M829.7 564.9h0M829.8 565.5h0M829.9 562.5h0M830.1 558.6h0M830.2 565.4h0M830.3 564.8h0M830.5 563.4h0M830.6 558.1h0M830.7 560.4h0M830.9 564.8h0M831.0 565.3h0M831.1 562.6h0M831.2 560.7h0M831.4 565.4h0M831.5 560.5h0M831.6 560.3h0M831.8 565.3h0M831.9 558.3h0M832.0 561.9h0M832.2 565.5h0M832.3 560.2h0M832.4 560.9h0M832.6 565.5h0M832.7 561.7h0M832.8 558.7h0M832.9 565.4h0M833.1 558.6h0M833.2 564.7h0M833.3 558.2h0M833.5 560.9h0M833.6 565.3h0M833.7 565.3h0M833.9 563.5h0M834.0 559.6h0M834.1 565.4h0M834.3 564.1h0M834.4 559.4h0M834.5 565.5h0M834.6 563.6h0M834.8 563.6h0M834.9 565.3h0M835.0 561.3h0M835.2 562.4h0M835.3 558.1h0M835.4 560.5h0M835.6 563.1h0M835.7 558.1h0M835.8 559.0h0M836.0 560.8h0M836.1 565.2h0M836.2 562.4h0M836.3 563.7h0M836.5 558.3h0M836.6 558.3h0M836.7 560.2h0M836.9 558.0h0M837.0 558.2h0M837.1 558.5h0M837.3 564.9h0M837.4 562.6h0M837.5 559.2h0M837.7 558.2h0M837.8 564.1h0M837.9 559.0h0M838.1 558.0h0M838.2 562.1h0M838.3 562.6h0M838.4 564.9h0M838.6 561.0h0M838.7 561.2h0M838.8 564.9h0M839.0 560.0h0M839.1 562.7h0M839.2 564.8h0M839.4 561.7h0M839.5 562.5h0M839.6 558.1h0M839.8 562.0h0M839.9 560.5h0M840.0 564.8h0M840.1 561.1h0M840.3 561.1h0M840.4 558.1h0M840.5 559.5h0M840.7 564.1h0M840.8 558.0h0M840.9 562.7h0M841.1 560.8h0M841.2 558.2h0M841.3 559.0h0M841.5 561.8h0M841.6 558.3h0M841.7 559.4h0M841.8 562.0h0M842.0 564.9h0M842.1 561.9h0M842.2 558.0h0M842.4 558.1h0M842.5 562.2h0M842.6 562.1h0M842.8 558.0h0M842.9 559.5h0M843.0 563.7h0M843.2 558.0h0M843.3 561.9h0M843.4 561.1h0M843.5 558.2h0M843.7 562.0h0M843.8 561.4h0M843.9 558.2h0M844.1 559.1h0M844.2 560.4h0M844.3 557.9h0M844.5 560.2h0M844.6 558.0h0M844.7 558.1h0M844.9 563.4h0M845.0 562.5h0M845.1 564.5h0M845.3 562.8h0M845.4 563.3h0M845.5 558.2h0M845.6 563.2h0M845.8 561.7h0M845.9 558.0h0M846.0 558.4h0M846.2 563.0h0M846.3 564.6h0M846.4 560.5h0M846.6 560.8h0M846.7 564.1h0M846.8 560.9h0M847.0 559.9h0M847.1 558.1h0M847.2 558.4h0M847.3 564.1h0M847.5 564.0h0M847.6 561.3h0M847.7 560.5h0M847.9 564.4h0M848.0 561.2h0M848.1 561.0h0M848.3 564.4h0M848.4 559.4h0M848.5 559.4h0M848.7 558.0h0M848.8 563.0h0M848.9 561.5h0M849.0 557.9h0M849.2 563.2h0M849.3 561.4h0M849.4 558.0h0M849.6 562.7h0M849.7 559.4h0M849.8 563.9h0M850.0 563.6h0M850.1 561.2h0M850.2 558.0h0M850.4 561.0h0M850.5 563.0h0M850.6 557.8h0M850.8 560.9h0M850.9 561.0h0M851.0 558.1h0M851.1 559.3h0M851.3 559.7h0M851.4 563.5h0M851.5 559.8h0M851.7 561.0h0M851.8 557.8h0M851.9 562.0h0M852.1 559.7h0M852.2 557.8h0M852.3 559.1h0M852.5 562.0h0M852.6 557.4h0M852.7 560.3h0M852.8 557.5h0M853.0 557.7h0M853.1 559.9h0M853.2 559.4h0M853.4 557.5h0M853.5 561.7h0M853.6 558.4h0M853.8 563.4h0M853.9 561.4h0M854.0 558.3h0M854.2 563.6h0M854.3 562.2h0M854.4 558.6h0M854.5 557.1h0M854.7 562.7h0M854.8 561.8h0M854.9 557.1h0M855.1 558.4h0M855.2 563.6h0M855.3 563.6h0M855.5 560.3h0M855.6 561.6h0M855.7 563.6h0M855.9 557.2h0M856.0 559.3h0M856.1 557.3h0M856.2 561.4h0M856.4 561.6h0M856.5 557.0h0M856.6 562.3h0M856.8 563.0h0M856.9 563.6h0M857.0 561.6h0M857.2 561.3h0M857.3 557.4h0M857.4 557.8h0M857.6 561.6h0M857.7 557.2h0M857.8 559.8h0M858.0 562.2h0M858.1 557.3h0M858.2 559.6h0M858.3 560.7h0M858.5 563.3h0M858.6 561.2h0M858.7 563.0h0M858.9 557.1h0M859.0 561.9h0M859.1 562.9h0M859.3 563.1h0M859.4 562.5h0M859.5 561.3h0M859.7 563.2h0M859.8 558.9h0M859.9 559.0h0M860.0 557.3h0M860.2 559.8h0M860.3 559.5h0M860.4 557.2h0M860.6 561.1h0M860.7 559.7h0M860.8 562.7h0M861.0 559.4h0M861.1 557.7h0M861.2 562.6h0M861.4 559.9h0M861.5 557.7h0M861.6 562.9h0M861.7 558.3h0M861.9 560.6h0M862.0 562.4h0M862.1 558.8h0M862.3 557.4h0M862.4 562.8h0M862.5 558.1h0M862.7 560.9h0M862.8 557.0h0M862.9 560.6h0M863.1 560.8h0M863.2 557.3h0M863.3 557.9h0M863.4 561.5h0M863.6 557.3h0M863.7 558.8h0M863.8 557.6h0M864.0 562.7h0M864.1 557.7h0M864.2 561.0h0M864.4 562.5h0M864.5 560.0h0M864.6 561.6h0M864.8 562.7h0M864.9 558.6h0M865.0 559.0h0M865.2 557.0h0M865.3 561.7h0M865.4 558.0h0M865.5 562.9h0M865.7 559.7h0M865.8 561.4h0M865.9 557.1h0M866.1 557.7h0M866.2 559.9h0M866.3 562.6h0M866.5 561.2h0M866.6 558.8h0M866.7 557.4h0M866.9 559.8h0M867.0 557.6h0M867.1 557.4h0M867.2 558.3h0M867.4 562.5h0M867.5 557.3h0M867.6 561.7h0M867.8 562.5h0M867.9 557.2h0M868.0 561.8h0M868.2 558.5h0M868.3 557.3h0M868.4 558.9h0M868.6 561.4h0M868.7 557.3h0M868.8 561.3h0M868.9 561.5h0M869.1 557.0h0M869.2 558.0h0M869.3 561.6h0M869.5 562.8h0M869.6 562.8h0M869.7 558.2h0M869.9 557.0h0M870.0 557.4h0M870.1 561.0h0M870.3 557.1h0M870.4 558.7h0M870.5 561.8h0M870.7 562.9h0M870.8 557.8h0M870.9 558.0h0M871.0 557.2h0M871.2 559.3h0M871.3 562.7h0M871.4 557.3h0M871.6 560.6h0M871.7 560.5h0M871.8 557.2h0M872.0 559.4h0M872.1 560.1h0M872.2 563.2h0M872.4 557.3h0M872.5 557.8h0M872.6 563.3h0M872.7 561.7h0M872.9 558.8h0M873.0 563.3h0M873.1 560.3h0M873.3 560.9h0M873.4 563.6h0M873.5 558.7h0M873.7 558.8h0M873.8 564.1h0M873.9 559.6h0M874.1 560.6h0M874.2 564.0h0M874.3 564.1h0M874.4 562.1h0M874.6 557.2h0M874.7 562.1h0M874.8 560.3h0M875.0 564.7h0M875.1 557.9h0M875.2 562.0h0M875.4 557.4h0M875.5 563.6h0M875.6 562.4h0M875.8 557.1h0M875.9 563.2h0M876.0 561.5h0M876.1 564.4h0M876.3 558.7h0M876.4 564.4h0M876.5 557.4h0M876.7 562.9h0M876.8 564.8h0M876.9 557.5h0M877.1 564.3h0M877.2 560.0h0M877.3 557.2h0M877.5 560.1h0M877.6 561.4h0M877.7 557.3h0M877.9 563.1h0M878.0 560.2h0M878.1 564.4h0M878.2 558.2h0M878.4 557.6h0M878.5 564.3h0M878.6 559.7h0M878.8 558.0h0M878.9 564.6h0M879.0 559.2h0M879.2 559.3h0M879.3 557.3h0M879.4 559.5h0M879.6 558.8h0M879.7 557.1h0M879.8 562.1h0M879.9 560.9h0M880.1 564.4h0M880.2 561.2h0M880.3 558.6h0M880.5 564.3h0M880.6 557.9h0M880.7 560.2h0M880.9 557.5h0M881.0 562.2h0M881.1 560.3h0M881.3 557.1h0M881.4 557.5h0M881.5 560.9h0M881.6 557.4h0M881.8 558.1h0M881.9 557.6h0M882.0 564.4h0M882.2 559.2h0M882.3 561.2h0M882.4 564.5h0M882.6 558.5h0M882.7 559.7h0M882.8 564.1h0M883.0 558.3h0M883.1 558.9h0M883.2 563.9h0M883.3 558.9h0M883.5 562.9h0M883.6 563.8h0M883.7 560.8h0M883.9 561.7h0M884.0 557.4h0M884.1 563.7h0M884.3 562.6h0M884.4 563.8h0M884.5 559.5h0M884.7 561.4h0M884.8 557.3h0M884.9 559.2h0M885.1 560.3h0M885.2 563.4h0M885.3 558.6h0M885.4 560.1h0M885.6 563.1h0M885.7 557.7h0M885.8 562.0h0M886.0 563.1h0M886.1 559.4h0M886.2 559.2h0M886.4 563.4h0M886.5 560.8h0M886.6 559.0h0M886.8 563.4h0M886.9 560.4h0M887.0 562.8h0M887.1 563.5h0M887.3 559.0h0M887.4 561.7h0M887.5 563.6h0M887.7 562.1h0M887.8 562.8h0M887.9 563.7h0M888.1 562.2h0M888.2 562.4h0M888.3 564.1h0M888.5 562.9h0M888.6 561.4h0M888.7 564.1h0M888.8 560.7h0M889.0 559.9h0M889.1 563.9h0M889.2 558.2h0M889.4 558.7h0M889.5 557.5h0M889.6 560.2h0M889.8 557.8h0M889.9 563.6h0M890.0 557.9h0M890.2 558.9h0M890.3 563.7h0M890.4 562.4h0M890.6 559.0h0M890.7 563.3h0M890.8 562.8h0M890.9 562.4h0M891.1 557.2h0M891.2 560.5h0M891.3 560.3h0M891.5 557.1h0M891.6 559.2h0M891.7 561.7h0M891.9 562.7h0M892.0 561.9h0M892.1 559.9h0M892.3 562.1h0M892.4 558.5h0M892.5 561.9h0M892.6 557.4h0M892.8 558.4h0M892.9 560.7h0M893.0 561.5h0M893.2 558.5h0M893.3 560.4h0M893.4 557.6h0M893.6 558.1h0M893.7 557.8h0M893.8 560.7h0M894.0 557.7h0M894.1 559.4h0M894.2 560.5h0M894.3 560.1h0M894.5 557.7h0M894.6 557.3h0M894.7 558.2h0M894.9 559.6h0M895.0 560.4h0M895.1 559.1h0M895.3 558.2h0M895.4 560.8h0M895.5 557.9h0M895.7 560.0h0M895.8 557.2h0M895.9 557.8h0M896.0 558.8h0M896.2 560.5h0M896.3 558.0h0M896.4 558.5h0M896.6 560.6h0M896.7 560.5h0M896.8 557.7h0M897.0 560.8h0M897.1 559.6h0M897.2 559.9h0M897.4 557.1h0M897.5 558.4h0M897.6 557.7h0M897.8 560.4h0M897.9 559.2h0M898.0 558.8h0M898.1 560.4h0M898.3 558.4h0M898.4 560.4h0M898.5 560.8h0M898.7 557.9h0M898.8 557.4h0M898.9 560.5h0M899.1 560.2h0M899.2 557.7h0M899.3 560.8h0M899.5 558.9h0M899.6 557.5h0M899.7 560.4h0M899.8 558.6h0M900.0 560.0h0M900.1 560.7h0M900.2 559.1h0M900.4 558.6h0M900.5 557.5h0M900.6 558.3h0M900.8 559.1h0M900.9 560.8h0M901.0 560.5h0M901.2 559.1h0M901.3 557.4h0M901.4 559.0h0M901.5 560.6h0M901.7 560.3h0M901.8 557.7h0M901.9 559.7h0M902.1 560.6h0M902.2 557.9h0M902.3 559.7h0M902.5 560.6h0M902.6 559.5h0M902.7 558.4h0M902.9 560.7h0M903.0 557.2h0M903.1 558.7h0M903.2 560.6h0M903.4 558.8h0M903.5 560.3h0M903.6 560.5h0M903.8 560.1h0M903.9 559.9h0M904.0 560.5h0M904.2 559.9h0M904.3 558.9h0M904.4 557.4h0M904.6 557.6h0M904.7 559.0h0M904.8 560.6h0M905.0 559.0h0M905.1 559.8h0M905.2 557.6h0M905.3 557.5h0M905.5 558.6h0M905.6 557.5h0M905.7 557.8h0M905.9 560.1h0M906.0 557.3h0M906.1 558.4h0M906.3 557.9h0M906.4 557.2h0M906.5 558.2h0M906.7 559.1h0M906.8 560.7h0M906.9 559.0h0M907.0 558.3h0M907.2 557.6h0M907.3 560.4h0M907.4 558.7h0M907.6 560.5h0M907.7 560.8h0M907.8 559.6h0M908.0 560.8h0M908.1 559.2h0M908.2 558.4h0M908.4 560.4h0M908.5 558.2h0M908.6 560.3h0M908.7 557.2h0M908.9 557.7h0M909.0 557.5h0M909.1 560.7h0M909.3 560.3h0M909.4 560.2h0M909.5 560.7h0M909.7 559.8h0M909.8 560.0h0M909.9 560.5h0M910.1 558.6h0M910.2 558.6h0M910.3 560.5h0M910.5 559.4h0M910.6 559.8h0M910.7 560.4h0M910.8 558.4h0M911.0 559.7h0M911.1 560.6h0M911.2 558.1h0M911.4 559.0h0M911.5 557.5h0M911.6 558.2h0M911.8 557.8h0M911.9 560.5h0M912.0 557.9h0M912.2 559.4h0M912.3 557.3h0M912.4 559.9h0M912.5 558.1h0M912.7 557.5h0M912.8 557.6h0M912.9 557.7h0M913.1 560.7h0M913.2 560.4h0M913.3 559.7h0M913.5 557.2h0M913.6 559.1h0M913.7 557.6h0M913.9 557.3h0M914.0 560.5h0M914.1 557.4h0M914.2 557.5h0M914.4 558.3h0M914.5 558.0h0M914.6 560.4h0M914.8 558.7h0M914.9 558.1h0M915.0 560.8h0M915.2 560.2h0M915.3 557.7h0M915.4 557.2h0M915.6 558.4h0M915.7 558.0h0M915.8 557.5h0M915.9 560.3h0M916.1 558.3h0M916.2 560.4h0M916.3 557.9h0M916.5 559.7h0M916.6 557.3h0M916.7 558.4h0M916.9 560.6h0M917.0 560.6h0M917.1 557.4h0M917.3 557.5h0M917.4 560.6h0M917.5 558.7h0M917.7 557.5h0M917.8 560.7h0M917.9 559.6h0M918.0 559.9h0M918.2 557.6h0M918.3 560.7h0M918.4 559.6h0M918.6 560.3h0M918.7 557.7h0M918.8 558.3h0M919.0 557.5h0M919.1 559.3h0M919.2 560.0h0M919.4 557.6h0M919.5 557.9h0M919.6 560.5h0M919.7 557.2h0M919.9 560.3h0M920.0 560.3h0M920.1 557.4h0M920.3 557.8h0M920.4 558.4h0M920.5 560.3h0M920.7 560.1h0M920.8 559.6h0M920.9 557.6h0M921.1 557.8h0M921.2 559.8h0M921.3 560.7h0M921.4 559.8h0M921.6 559.5h0M921.7 557.3h0M921.8 558.8h0M922.0 558.5h0M922.1 557.2h0M922.2 557.3h0M922.4 559.2h0M922.5 557.4h0M922.6 559.8h0M922.8 559.6h0M922.9 557.5h0M923.0 559.2h0M923.1 557.3h0M923.3 557.2h0M923.4 560.5h0M923.5 557.8h0M923.7 560.5h0M923.8 557.9h0M923.9 558.1h0M924.1 557.2h0M924.2 559.0h0M924.3 560.3h0M924.5 557.5h0M924.6 560.5h0M924.7 558.7h0M924.9 560.3h0M925.0 560.2h0M925.1 559.9h0M925.2 557.4h0M925.4 558.8h0M925.5 558.5h0M925.6 560.6h0M925.8 559.6h0M925.9 559.4h0M926.0 557.2h0M926.2 557.9h0M926.3 558.6h0M926.4 557.4h0M926.6 559.6h0M926.7 558.9h0M926.8 557.7h0M926.9 558.3h0M927.1 557.8h0M927.2 560.3h0M927.3 557.5h0M927.5 557.4h0M927.6 560.3h0M927.7 559.7h0M927.9 559.6h0M928.0 560.4h0M928.1 560.2h0M928.3 560.2h0M928.4 560.8h0M928.5 557.2h0M928.6 559.7h0M928.8 560.7h0M928.9 560.1h0M929.0 557.9h0M929.2 560.3h0M929.3 560.0h0M929.4 559.1h0M929.6 557.6h0M929.7 559.0h0M929.8 558.3h0M930.0 560.8h0M930.1 560.1h0M930.2 560.1h0M930.4 557.4h0M930.5 560.3h0M930.6 559.5h0M930.7 560.6h0M930.9 558.8h0M931.0 559.5h0M931.1 560.5h0M931.3 559.5h0M931.4 557.9h0M931.5 560.3h0M931.7 559.8h0M931.8 557.6h0M931.9 560.5h0M932.1 557.7h0M932.2 559.2h0M932.3 557.4h0M932.4 558.0h0M932.6 559.2h0M932.7 560.4h0M932.8 557.9h0M933.0 557.5h0M933.1 557.6h0M933.2 559.9h0M933.4 558.1h0M933.5 557.4h0M933.6 559.6h0M933.8 557.8h0M933.9 560.5h0M934.0 560.5h0M934.1 557.9h0M934.3 560.3h0M934.4 560.1h0M934.5 560.1h0M934.7 557.4h0M934.8 559.3h0M934.9 559.6h0M935.1 557.3h0M935.2 558.9h0M935.3 559.9h0M935.5 560.6h0M935.6 558.7h0M935.7 560.4h0M935.8 560.7h0M936.0 559.5h0M936.1 560.0h0M936.2 557.7h0M936.4 558.3h0M936.5 558.5h0M936.6 560.4h0M936.8 560.4h0M936.9 558.9h0M937.0 557.2h0M937.2 557.6h0M937.3 560.4h0M937.4 560.7h0M937.6 560.4h0M937.7 558.0h0M937.8 560.3h0M937.9 559.6h0M938.1 558.8h0M938.2 557.5h0M938.3 557.4h0M938.5 557.8h0M938.6 557.5h0M938.7 560.5h0M938.9 559.0h0M939.0 560.7h0M939.1 558.8h0M939.3 557.4h0M939.4 557.2h0M939.5 560.0h0M939.6 559.0h0M939.8 557.7h0M939.9 558.6h0M940.0 560.7h0M940.2 557.4h0M940.3 560.0h0M940.4 557.7h0M940.6 557.3h0M940.7 559.4h0M940.8 559.7h0M941.0 557.2h0M941.1 560.6h0M941.2 559.9h0M941.3 557.7h0M941.5 559.5h0M941.6 559.6h0M941.7 560.4h0M941.9 557.7h0M942.0 558.7h0M942.1 560.4h0M942.3 557.8h0M942.4 557.7h0M942.5 557.3h0M942.7 558.3h0M942.8 559.6h0M942.9 560.6h0M943.0 557.9h0M943.2 560.3h0M943.3 560.3h0M943.4 558.4h0M943.6 559.1h0M943.7 560.5h0M943.8 557.7h0M944.0 558.7h0M944.1 557.6h0M944.2 558.5h0M944.4 559.1h0M944.5 557.6h0M944.6 558.7h0M944.8 558.8h0M944.9 560.6h0M945.0 558.4h0M945.1 560.4h0M945.3 557.3h0M945.4 558.3h0M945.5 558.6h0M945.7 560.6h0M945.8 558.0h0M945.9 559.2h0M946.1 560.6h0M946.2 558.4h0M946.3 560.0h0M946.5 560.3h0M946.6 559.1h0M946.7 559.0h0M946.8 557.5h0M947.0 558.5h0M947.1 559.5h0M947.2 557.3h0M947.4 558.9h0M947.5 558.0h0M947.6 560.4h0M947.8 558.4h0M947.9 557.9h0M948.0 560.3h0M948.2 560.6h0M948.3 558.9h0M948.4 557.4h0M948.5 558.5h0M948.7 560.0h0M948.8 560.4h0M948.9 559.1h0M949.1 558.0h0M949.2 557.7h0M949.3 560.4h0M949.5 560.4h0M949.6 560.6h0M949.7 559.8h0M949.9 560.3h0M950.0 557.3h0M950.1 559.1h0M950.2 560.3h0M831.5 489.7h0M799.6 541.2h0M755.4 548.3h0M767.5 549.7h0M767.5 553.0h0M755.6 552.0h0M755.4 571.1h0M757.4 573.8h0M756.3 568.0h0M757.4 602.6h0M755.4 617.3h0M785.3 579.5h0M804.3 577.1h0M822.4 571.4h0M836.4 569.1h0M813.0 574.5h0M812.0 573.0h0M829.4 683.7h0M775.5 553.2h0M902.5 554.5h0" stroke="#339933" stroke-width="6.7" stroke-linecap="round" fill="none"/>
</g>
<g clip-path="url(#c3)">
<path d="M127.0 778H978.0M127.0 851H978.0M127.0 924H978.0" stroke="#b0b0b0" stroke-width="2.0" fill="none"/>
<path d="M733.5 998.0V705.0" stroke="#e00000" stroke-width="3" fill="none"/><path d="M733.5 998.0V705.0" stroke="#008000" stroke-width="2.78" stroke-dasharray="10.28 4.44" fill="none"/><path d="M783.4 998.0V705.0M820.6 998.0V705.0M829.4 998.0V705.0M834.4 998.0V705.0M849.4 998.0V705.0M861.3 998.0V705.0M888.5 998.0V705.0" stroke="#0a5ab4" stroke-width="2.78" stroke-dasharray="10.28 4.44" fill="none"/><path d="M951.7 998.0V705.0" stroke="#000" stroke-width="2.78" stroke-dasharray="10.28 4.44" fill="none"/>
<rect x="754.2" y="705.0" width="0.8" height="293.0" fill="#339933" fill-opacity="0.08"/>
<rect x="757.4" y="792" width="1.0" height="206.0" fill="#339933" fill-opacity="0.08"/>
<rect x="758.5" y="858" width="3.4" height="140.0" fill="#339933" fill-opacity="0.11"/>
<rect x="764.4" y="858" width="5.4" height="140.0" fill="#339933" fill-opacity="0.11"/>
<rect x="771.1" y="858" width="0.8" height="140.0" fill="#339933" fill-opacity="0.08"/>
<rect x="762.55" y="858" width="0.7" height="140.0" fill="#339933" fill-opacity="0.08"/>
<rect x="823.2" y="705.0" width="0.8" height="293.0" fill="#339933" fill-opacity="0.08"/>
<rect x="829.3000000000001" y="705.0" width="0.8" height="293.0" fill="#339933" fill-opacity="0.08"/>
<path d="M756.0 843.8h0M756.6 843.8h0M757.2 844.4h0M757.8 843.4h0M758.4 844.1h0M759.0 843.4h0M759.6 844.6h0M760.2 844.2h0M760.8 844.6h0M761.4 844.0h0M762.0 844.3h0M762.6 844.1h0M763.2 843.9h0M763.8 844.2h0M764.4 843.7h0M765.0 844.1h0M765.6 844.4h0M766.2 844.2h0M766.8 844.0h0M767.4 844.9h0M768.0 844.2h0M768.6 844.0h0M769.2 844.2h0M769.8 844.0h0M770.4 844.0h0M771.0 844.1h0M771.6 844.9h0M772.2 844.2h0M772.8 844.2h0M773.4 844.4h0M774.0 844.9h0M774.6 844.1h0M775.2 844.0h0M775.8 845.0h0M776.4 843.7h0M777.0 844.0h0M777.6 844.4h0M778.2 845.0h0M778.8 843.8h0M779.4 843.3h0M780.0 844.4h0M780.6 844.0h0M781.2 844.0h0M781.8 844.3h0M845.0 844.3h0M845.6 844.3h0M846.2 844.0h0M846.8 844.6h0M847.4 844.7h0M848.0 844.2h0M848.6 844.0h0M849.2 844.4h0M849.8 844.3h0M850.4 843.8h0M851.0 844.0h0M851.6 844.5h0M852.2 844.1h0M852.8 844.1h0M853.4 844.2h0M854.0 844.2h0M854.6 844.2h0M855.2 843.5h0M855.8 844.8h0M856.4 844.2h0M857.0 843.9h0M857.6 844.5h0M858.2 844.3h0M858.8 844.2h0M859.4 844.5h0M860.0 845.0h0M860.6 844.4h0M861.2 844.7h0M861.8 844.9h0M862.4 843.8h0M863.0 844.0h0M863.6 844.4h0M864.2 843.6h0M864.8 844.1h0M865.4 844.6h0M866.0 844.5h0M866.6 844.4h0M867.2 843.5h0M867.8 845.0h0M868.4 844.4h0M869.0 844.4h0M869.6 844.3h0M870.2 843.6h0M870.8 843.7h0M871.4 843.7h0M872.0 844.8h0M872.6 843.9h0M873.2 844.1h0M873.8 844.1h0M874.4 844.4h0M875.0 844.4h0M875.6 844.3h0M876.2 843.7h0M876.8 843.1h0M877.4 844.2h0M878.0 844.3h0M878.6 844.6h0M879.2 844.1h0M879.8 844.0h0M880.4 844.3h0M881.0 843.6h0M881.6 843.8h0M892.3 843.8h0M892.9 844.3h0M893.5 844.9h0M894.1 844.4h0M894.7 844.6h0M895.3 844.3h0M895.9 844.3h0M896.5 844.0h0M897.1 844.1h0M897.7 843.3h0M898.3 843.8h0M898.9 843.7h0M899.5 844.5h0M900.1 844.4h0M900.7 844.6h0M901.3 844.7h0M901.9 844.1h0M902.5 844.5h0M903.1 844.9h0M903.7 844.2h0M904.3 844.6h0M904.9 844.1h0M905.5 843.6h0M906.1 844.2h0M906.7 843.9h0M907.3 844.2h0M907.9 844.0h0M908.5 844.3h0M909.1 843.4h0M909.7 844.9h0M910.3 844.7h0M910.9 844.1h0M911.5 843.9h0M912.1 844.2h0M912.7 844.4h0M913.3 844.3h0M923.6 844.3h0M924.2 843.5h0M924.8 843.8h0M925.4 844.6h0M926.0 844.3h0M926.6 843.6h0M927.2 843.9h0M927.8 843.7h0M928.4 843.8h0M929.0 844.6h0M929.6 844.1h0M930.2 844.6h0M930.8 844.2h0M931.4 843.6h0M932.0 843.9h0M932.6 845.0h0M933.2 843.9h0M933.8 843.8h0M934.4 844.6h0M935.0 844.2h0M935.6 844.2h0M936.2 844.7h0M936.8 843.5h0M937.4 844.3h0M938.0 843.8h0M938.6 843.7h0M939.2 843.9h0M939.8 844.6h0M940.4 844.1h0M941.0 843.5h0M941.6 843.8h0M942.2 844.7h0M942.8 844.5h0M943.4 843.8h0M944.0 845.0h0M944.6 844.0h0M945.2 843.7h0M945.8 844.1h0M946.4 844.5h0M947.0 844.8h0M947.6 844.5h0M948.2 844.0h0M754.0 851.3h0M754.6 851.0h0M755.2 851.5h0M755.8 851.3h0M756.4 851.6h0M757.0 851.0h0M757.6 851.3h0M758.2 851.2h0M758.8 851.1h0M759.4 851.1h0M760.0 851.1h0M760.6 851.1h0M761.2 851.7h0M761.8 851.5h0M762.4 851.0h0M763.0 851.7h0M763.6 851.6h0M764.2 852.0h0M764.8 851.4h0M765.4 851.4h0M766.0 851.3h0M766.6 851.5h0M767.2 851.7h0M767.8 851.6h0M768.4 851.4h0M769.0 851.7h0M769.6 851.5h0M770.2 851.6h0M770.8 851.2h0M771.4 851.6h0M772.0 851.1h0M772.6 851.2h0M773.2 851.6h0M773.8 852.3h0M774.4 851.9h0M775.0 851.5h0M775.6 851.4h0M776.2 851.9h0M776.8 852.0h0M777.4 851.9h0M778.0 851.4h0M778.6 851.6h0M779.2 851.4h0M779.8 851.4h0M780.4 851.2h0M781.0 851.4h0M781.6 850.7h0M782.2 851.1h0M782.8 851.7h0M783.4 851.2h0M784.0 851.7h0M784.6 851.0h0M785.2 851.4h0M785.8 851.6h0M786.4 851.1h0M787.0 851.2h0M787.6 852.4h0M788.2 851.3h0M788.8 851.2h0M789.4 851.3h0M790.0 851.5h0M790.6 851.5h0M791.2 851.9h0M791.8 851.8h0M792.4 851.4h0M793.0 851.4h0M793.6 851.0h0M794.2 851.0h0M794.8 851.2h0M795.4 851.8h0M796.0 851.5h0M796.6 851.8h0M797.2 851.8h0M797.8 851.4h0M798.4 852.3h0M799.0 851.3h0M799.6 851.3h0M800.2 851.3h0M800.8 851.9h0M801.4 851.5h0M802.0 851.2h0M802.6 851.7h0M803.2 851.9h0M813.0 851.5h0M813.6 851.4h0M814.2 851.9h0M814.8 851.9h0M815.4 851.8h0M816.0 851.2h0M816.6 851.6h0M817.2 851.6h0M817.8 850.9h0M818.4 851.9h0M819.0 851.5h0M819.6 851.4h0M820.2 852.3h0M820.8 851.6h0M821.4 851.2h0M822.0 851.5h0M822.6 851.7h0M823.2 851.8h0M823.8 851.5h0M824.4 851.2h0M825.0 851.3h0M825.6 851.2h0M826.2 851.1h0M826.8 851.5h0M827.4 851.3h0M828.0 851.5h0M828.6 851.2h0M829.2 851.2h0M829.8 851.4h0M830.4 851.4h0M831.0 851.9h0M831.6 851.2h0M832.2 851.6h0M832.8 851.5h0M833.4 851.0h0M834.0 851.8h0M834.6 851.6h0M835.2 850.8h0M835.8 851.7h0M836.4 851.8h0M837.0 851.2h0M837.6 852.1h0M838.2 851.6h0M838.8 851.1h0M839.4 851.7h0M840.0 851.4h0M840.6 851.0h0M841.2 850.7h0M841.8 851.6h0M842.4 851.2h0M843.0 851.7h0M843.6 851.6h0M844.2 851.3h0M844.8 851.3h0M845.4 852.1h0M846.0 852.1h0M846.6 851.8h0M847.2 851.4h0M847.8 851.1h0M848.4 851.4h0M849.0 852.1h0M849.6 851.7h0M850.2 851.4h0M850.8 851.1h0M851.4 851.6h0M852.0 851.2h0M852.6 851.5h0M853.2 851.8h0M853.8 851.9h0M854.4 851.5h0M855.0 851.4h0M855.6 851.6h0M856.2 852.1h0M856.8 851.6h0M857.4 851.0h0M858.0 852.1h0M858.6 851.6h0M859.2 852.7h0M859.8 851.3h0M860.4 851.5h0M861.0 851.4h0M861.6 851.6h0M862.2 851.3h0M862.8 851.0h0M863.4 850.8h0M864.0 851.5h0M864.6 851.3h0M865.2 851.3h0M865.8 852.3h0M866.4 851.8h0M867.0 851.9h0M867.6 851.3h0M868.2 851.6h0M868.8 851.4h0M869.4 851.4h0M870.0 851.8h0M870.6 851.7h0M871.2 851.6h0M871.8 851.6h0M872.4 851.0h0M873.0 851.2h0M873.6 851.6h0M874.2 851.4h0M874.8 851.2h0M875.4 851.6h0M876.0 851.2h0M876.6 851.3h0M877.2 851.8h0M877.8 851.4h0M878.4 852.0h0M879.0 851.7h0M879.6 851.8h0M880.2 851.9h0M880.8 850.7h0M881.4 851.5h0M882.0 851.0h0M882.6 851.3h0M883.2 851.5h0M883.8 851.9h0M884.4 851.5h0M885.0 852.1h0M885.6 851.3h0M886.2 851.5h0M886.8 851.5h0M887.4 851.8h0M888.0 851.5h0M888.6 851.3h0M889.2 851.4h0M889.8 851.0h0M890.4 851.9h0M891.0 851.8h0M891.6 851.7h0M892.2 851.6h0M892.8 851.3h0M893.4 851.4h0M894.0 851.8h0M894.6 851.2h0M895.2 851.2h0M895.8 852.1h0M896.4 852.1h0M897.0 851.6h0M897.6 851.7h0M898.2 851.6h0M898.8 852.0h0M899.4 851.3h0M900.0 851.5h0M900.6 851.7h0M901.2 852.0h0M901.8 851.4h0M902.4 851.6h0M903.0 851.3h0M903.6 851.3h0M904.2 851.3h0M904.8 851.5h0M905.4 851.8h0M906.0 851.3h0M906.6 851.3h0M907.2 851.4h0M907.8 851.6h0M908.4 851.7h0M909.0 851.1h0M909.6 851.6h0M910.2 851.1h0M910.8 851.8h0M911.4 851.2h0M912.0 851.1h0M912.6 851.2h0M913.2 851.5h0M913.8 851.1h0M914.4 851.6h0M915.0 851.6h0M915.6 851.5h0M916.2 851.6h0M916.8 851.8h0M917.4 851.2h0M918.0 851.5h0M918.6 851.5h0M919.2 850.8h0M919.8 851.6h0M920.4 851.2h0M921.0 851.2h0M921.6 851.3h0M922.2 851.5h0M922.8 851.6h0M923.4 851.7h0M924.0 851.3h0M924.6 851.7h0M925.2 851.6h0M925.8 851.4h0M926.4 851.5h0M927.0 851.8h0M927.6 851.7h0M928.2 851.7h0M928.8 851.5h0M929.4 851.9h0M930.0 852.3h0M930.6 851.7h0M931.2 850.9h0M931.8 852.1h0M932.4 851.3h0M933.0 851.0h0M933.6 850.7h0M934.2 851.6h0M934.8 851.9h0M935.4 851.9h0M936.0 851.4h0M936.6 852.0h0M937.2 851.5h0M937.8 851.3h0M938.4 851.5h0M939.0 851.6h0M939.6 851.5h0M940.2 851.6h0M940.8 850.7h0M941.4 852.0h0M942.0 851.3h0M942.6 851.7h0M943.2 851.2h0M943.8 851.6h0M944.4 851.4h0M945.0 850.9h0M945.6 851.6h0M946.2 851.7h0M946.8 851.1h0M947.4 850.8h0M948.0 851.3h0M948.6 851.2h0M949.2 851.5h0M949.8 851.5h0M754.0 859.4h0M754.6 859.1h0M755.2 858.7h0M755.8 858.9h0M756.4 857.8h0M757.0 858.5h0M757.6 858.5h0M758.2 858.8h0M758.8 858.9h0M759.4 858.9h0M760.0 859.2h0M760.6 858.6h0M761.2 858.9h0M761.8 858.8h0M762.4 858.8h0M763.0 858.9h0M763.6 858.7h0M764.2 858.9h0M764.8 858.8h0M765.4 859.2h0M766.0 858.8h0M766.6 858.9h0M767.2 859.7h0M767.8 859.0h0M768.4 859.0h0M769.0 859.2h0M769.6 858.5h0M770.2 859.1h0M770.8 859.1h0M771.4 859.0h0M772.0 859.2h0M772.6 859.1h0M773.2 859.2h0M773.8 858.6h0M774.4 859.0h0M775.0 858.6h0M775.6 859.3h0M776.2 858.9h0M776.8 858.4h0M777.4 858.9h0M778.0 858.5h0M778.6 859.2h0M779.2 858.7h0M779.8 858.1h0M780.4 858.7h0M781.0 859.2h0M781.6 858.9h0M782.2 858.6h0M782.8 859.1h0M783.4 859.0h0M784.0 859.3h0M784.6 859.1h0M785.2 859.0h0M785.8 858.6h0M786.4 858.9h0M787.0 858.9h0M787.6 858.8h0M788.2 859.0h0M788.8 858.4h0M789.4 859.0h0M790.0 858.8h0M790.6 858.9h0M791.2 858.8h0M791.8 858.7h0M792.4 858.9h0M793.0 859.1h0M793.6 858.7h0M794.2 858.9h0M794.8 858.6h0M795.4 859.0h0M796.0 858.8h0M796.6 858.4h0M797.2 859.2h0M797.8 858.5h0M798.4 858.9h0M799.0 858.4h0M799.6 858.2h0M800.2 859.1h0M800.8 858.3h0M801.4 858.1h0M802.0 858.8h0M802.6 858.3h0M803.2 858.8h0M803.8 859.5h0M804.4 858.7h0M805.0 858.9h0M805.6 859.0h0M806.2 858.9h0M806.8 858.8h0M807.4 859.3h0M808.0 858.8h0M808.6 858.9h0M809.2 858.9h0M809.8 858.4h0M810.4 858.9h0M811.0 858.8h0M811.6 859.1h0M812.2 859.1h0M812.8 859.4h0M813.4 858.2h0M814.0 858.6h0M814.6 858.7h0M815.2 858.5h0M815.8 859.0h0M816.4 858.8h0M817.0 858.9h0M817.6 858.3h0M818.2 858.5h0M818.8 858.8h0M819.4 858.7h0M820.0 858.6h0M820.6 858.8h0M821.2 858.7h0M821.8 858.5h0M822.4 859.4h0M823.0 858.6h0M823.6 859.1h0M824.2 859.0h0M824.8 859.2h0M825.4 858.6h0M826.0 858.5h0M826.6 859.0h0M827.2 858.9h0M827.8 858.0h0M828.4 857.9h0M829.0 858.6h0M829.6 858.7h0M830.2 858.7h0M830.8 859.0h0M831.4 858.5h0M832.0 859.7h0M832.6 859.1h0M833.2 859.3h0M833.8 858.9h0M834.4 858.1h0M835.0 858.9h0M835.6 858.6h0M836.2 859.0h0M836.8 858.8h0M837.4 859.1h0M838.0 858.5h0M838.6 858.7h0M839.2 858.8h0M839.8 858.6h0M840.4 858.7h0M841.0 859.0h0M841.6 859.5h0M842.2 858.8h0M852.2 858.8h0M852.8 858.8h0M853.4 858.8h0M861.8 859.1h0M862.4 858.4h0M863.0 858.7h0M863.6 858.9h0M864.2 859.0h0M864.8 858.5h0M865.4 859.0h0M882.7 858.8h0M883.3 858.8h0M891.5 858.8h0M892.1 858.8h0M892.7 858.8h0M893.3 858.8h0M912.2 858.8h0M921.2 858.8h0M921.8 858.8h0M922.4 858.8h0M923.0 858.8h0M938.0 858.8h0M784.2 866.2h0M784.8 866.6h0M785.4 866.5h0M786.0 866.3h0M786.6 866.0h0M787.2 866.2h0M787.8 865.9h0M788.4 865.9h0M789.0 865.5h0M789.6 865.7h0M790.2 865.7h0M790.8 866.1h0M791.4 866.2h0M792.0 865.7h0M792.6 866.1h0M793.2 866.3h0M793.8 866.5h0M794.4 866.1h0M795.0 866.2h0M795.6 866.0h0M796.2 866.5h0M796.8 865.6h0M797.4 866.2h0M798.0 865.3h0M798.6 866.7h0M799.2 866.5h0M799.8 865.4h0M800.4 866.0h0M801.0 865.7h0M801.6 865.5h0M802.2 866.0h0M802.8 865.8h0M803.4 866.5h0M804.0 866.0h0M804.6 865.8h0M805.2 866.1h0M805.8 866.3h0M806.4 866.4h0M807.0 866.3h0M807.6 865.6h0M808.2 865.9h0M808.8 866.1h0M809.4 865.9h0M810.0 866.4h0M810.6 866.0h0M811.2 866.1h0M811.8 866.0h0M812.4 866.2h0M813.0 865.6h0M813.6 866.9h0M814.2 866.0h0M814.8 865.9h0M815.4 865.5h0M816.0 866.1h0M816.6 865.7h0M817.2 866.3h0M817.8 866.6h0M818.4 866.4h0M819.0 866.0h0M819.6 866.6h0M757.4 866.1h0M836.4 866.1h0M874.6 866.1h0M820.5 866.1h0M821.1 866.1h0M784.2 873.5h0M784.8 873.5h0M785.4 873.5h0M786.0 873.5h0M786.6 873.5h0M800.3 873.4h0M800.9 873.5h0M801.5 873.5h0M802.1 873.3h0M802.7 873.6h0M803.3 873.0h0M803.9 872.9h0M804.5 873.9h0M805.1 873.2h0M805.7 873.3h0M806.3 873.6h0M806.9 873.3h0M807.5 873.1h0M808.1 873.4h0M808.7 873.1h0M809.3 873.7h0M809.9 873.3h0M810.5 873.4h0M811.1 873.7h0M811.7 872.9h0M812.3 873.0h0M812.9 873.7h0M813.5 873.9h0M814.1 873.5h0M814.7 873.2h0M815.3 873.9h0M815.9 873.6h0M828.4 873.5h0M783.5 880.8h0M809.9 880.8h0M805.4 888.1h0M757.4 792.4h0M755.4 829.4h0M829.5 785.4h0M824.6 719.5h0" stroke="#339933" stroke-width="6.7" stroke-linecap="round" fill="none"/>
</g>
<rect x="127.0" y="107.0" width="851.0" height="891.0" fill="none" stroke="#000" stroke-width="2.0"/>
<path d="M127.0 119.0H978.0M127.0 412.0H978.0M127.0 705.0H978.0" stroke="#000" stroke-width="2.0" fill="none"/>
<path d="M126.0 119H117M126.0 192H117M126.0 265H117M126.0 338H117M126.0 412H117M126.0 485H117M126.0 558H117M126.0 631H117M126.0 705H117M126.0 778H117M126.0 851H117M126.0 924H117M126.0 998H117M127 999.0V1008M141 999.0V1004M154 999.0V1004M168 999.0V1004M182 999.0V1004M195 999.0V1004M209 999.0V1004M222 999.0V1004M236 999.0V1008M249 999.0V1004M263 999.0V1004M276 999.0V1004M290 999.0V1004M304 999.0V1004M317 999.0V1004M331 999.0V1004M344 999.0V1008M358 999.0V1004M372 999.0V1004M385 999.0V1004M399 999.0V1004M412 999.0V1004M426 999.0V1004M439 999.0V1004M453 999.0V1008M467 999.0V1004M480 999.0V1004M494 999.0V1004M507 999.0V1004M521 999.0V1004M534 999.0V1004M548 999.0V1004M562 999.0V1008M575 999.0V1004M589 999.0V1004M602 999.0V1004M616 999.0V1004M629 999.0V1004M643 999.0V1004M656 999.0V1004M670 999.0V1008M684 999.0V1004M697 999.0V1004M711 999.0V1004M724 999.0V1004M738 999.0V1004M752 999.0V1004M765 999.0V1004M779 999.0V1008M792 999.0V1004M806 999.0V1004M819 999.0V1004M833 999.0V1004M847 999.0V1004M860 999.0V1004M874 999.0V1004M887 999.0V1008M901 999.0V1004M915 999.0V1004M928 999.0V1004M942 999.0V1004M955 999.0V1004M969 999.0V1004" stroke="#000" stroke-width="2.0" fill="none"/>
<g font-size="25">
<text x="106.8" y="128.2" text-anchor="end" letter-spacing="-0.7">10</text>
<text x="108.5" y="202.0" text-anchor="end">5</text>
<text x="108.5" y="275.0" text-anchor="end">0</text>
<text x="108.5" y="348.0" text-anchor="end">−5</text>
<text x="106.8" y="421.2" text-anchor="end" letter-spacing="-0.7">−10</text>
<text x="107.5" y="421.3" text-anchor="end" letter-spacing="-0.7">10</text>
<text x="108.5" y="495.0" text-anchor="end">5</text>
<text x="108.5" y="568.0" text-anchor="end">0</text>
<text x="108.5" y="641.0" text-anchor="end">−5</text>
<text x="106.8" y="714.2" text-anchor="end" letter-spacing="-0.7">−10</text>
<text x="107.5" y="714.3" text-anchor="end" letter-spacing="-0.7">10</text>
<text x="108.5" y="788.0" text-anchor="end">5</text>
<text x="108.5" y="861.0" text-anchor="end">0</text>
<text x="108.5" y="934.0" text-anchor="end">−5</text>
<text x="106.8" y="1007.2" text-anchor="end" letter-spacing="-0.7">−10</text>
<text x="127.7" y="1035.9" text-anchor="middle">1996</text>
<text x="236.2" y="1035.9" text-anchor="middle">2000</text>
<text x="344.8" y="1035.9" text-anchor="middle">2004</text>
<text x="453.4" y="1035.9" text-anchor="middle">2008</text>
<text x="562.0" y="1035.9" text-anchor="middle">2012</text>
<text x="670.6" y="1035.9" text-anchor="middle">2016</text>
<text x="779.1" y="1035.9" text-anchor="middle">2020</text>
<text x="887.7" y="1035.9" text-anchor="middle">2024</text>
<text x="552.9" y="1070.7" text-anchor="middle">Year</text>
<text transform="translate(37.9 266.2) rotate(-90)" text-anchor="middle">X (m)</text>
<text transform="translate(37.9 559.1) rotate(-90)" text-anchor="middle">Y (m)</text>
<text transform="translate(37.9 852.1) rotate(-90)" text-anchor="middle">Z (m)</text>
</g>
<text transform="translate(961.1 127.6) rotate(90) scale(1 1.2)" font-size="18.5">Now</text>
<text x="552.4" y="42.6" text-anchor="middle" font-size="30.56" font-weight="bold">Galileo Standard Point Positioning</text>
<text x="552.4" y="81.9" text-anchor="middle" font-size="27.78">ALKS00LVA - ROB-EUREF data node</text>
<rect x="25.75" y="1095.45" width="949.65" height="44" rx="4.2" ry="4.2" fill="#fff" stroke="#d6d6d6" stroke-width="2.78"/>
<g font-size="25">
<circle cx="47.5" cy="1115.5" r="4.4" fill="#339933"/><text x="62.4" y="1123.7">GAL</text>
<circle cx="289.7" cy="1115.5" r="4.4" fill="#8582c0"/><text x="303.7" y="1123.7" letter-spacing="0.28">RINEX2</text>
<circle cx="573.7" cy="1115.5" r="4.4" fill="#660066"/><text x="588.1" y="1123.7" letter-spacing="0.25">RINEX3</text>
<circle cx="857.4" cy="1115.5" r="4.4" fill="#2b0a30"/><text x="872.8" y="1123.7" letter-spacing="-0.12">RINEX4</text>
</g>
<g font-size="19.44" font-style="italic">
<text x="25.0" y="1169.6">Thu Apr 30 12:06:17 2026</text>
<text x="969.5" y="1169.6" text-anchor="end">©GNSS@ROB</text>
</g>
</svg>
</body></html>
